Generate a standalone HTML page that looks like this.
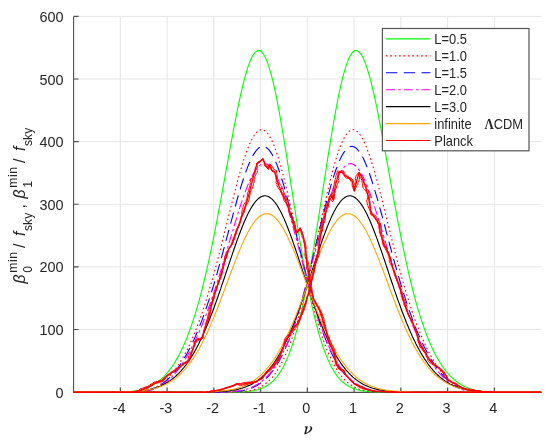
<!DOCTYPE html>
<html><head><meta charset="utf-8"><style>html,body{margin:0;padding:0;background:#fff;overflow:hidden}svg{display:block}</style></head><body>
<svg width="550" height="441" viewBox="0 0 550 441">
<rect width="550" height="441" fill="#fff"/>
<path d="M120.35,16.4 V392.4 M167.10,16.4 V392.4 M213.85,16.4 V392.4 M260.60,16.4 V392.4 M307.35,16.4 V392.4 M354.10,16.4 V392.4 M400.85,16.4 V392.4 M447.60,16.4 V392.4 M494.35,16.4 V392.4 M73.6,329.48 H541.15 M73.6,266.86 H541.15 M73.6,204.24 H541.15 M73.6,141.62 H541.15 M73.6,79.00 H541.15 M73.6,16.38 H541.15" stroke="#e6e6e6" stroke-width="1" fill="none"/>
<path d="M73.6,16.4 V392.4 H541.15" stroke="#505050" stroke-width="1.1" fill="none"/>
<path d="M120.35,392.4 v-5 M167.10,392.4 v-5 M213.85,392.4 v-5 M260.60,392.4 v-5 M307.35,392.4 v-5 M354.10,392.4 v-5 M400.85,392.4 v-5 M447.60,392.4 v-5 M494.35,392.4 v-5 M73.6,392.10 h5 M73.6,329.48 h5 M73.6,266.86 h5 M73.6,204.24 h5 M73.6,141.62 h5 M73.6,79.00 h5 M73.6,16.38 h5" stroke="#505050" stroke-width="1.2" fill="none"/>
<path d="M73.6,392.1 L74.8,392.1 L75.9,392.1 L77.1,392.1 L78.3,392.1 L79.4,392.1 L80.6,392.1 L81.8,392.1 L83.0,392.1 L84.1,392.1 L85.3,392.1 L86.5,392.1 L87.6,392.1 L88.8,392.1 L90.0,392.1 L91.1,392.1 L92.3,392.1 L93.5,392.1 L94.6,392.1 L95.8,392.1 L97.0,392.1 L98.1,392.1 L99.3,392.1 L100.5,392.1 L101.7,392.1 L102.8,392.1 L104.0,392.1 L105.2,392.1 L106.3,392.1 L107.5,392.1 L108.7,392.1 L109.8,392.1 L111.0,392.1 L112.2,392.1 L113.3,392.1 L114.5,392.1 L115.7,392.1 L116.8,392.1 L118.0,392.1 L119.2,392.1 L120.4,392.1 L121.5,392.1 L122.7,392.1 L123.9,392.1 L125.0,392.1 L126.2,392.1 L127.4,392.1 L128.5,392.1 L129.7,392.1 L130.9,392.1 L132.0,392.1 L133.2,392.1 L134.4,392.1 L135.5,392.1 L136.7,392.1 L137.9,392.1 L139.1,392.1 L140.2,392.1 L141.4,392.1 L142.6,392.1 L143.7,392.1 L144.9,392.1 L146.1,392.1 L147.2,392.1 L148.4,392.1 L149.6,392.1 L150.7,392.1 L151.9,392.1 L153.1,392.1 L154.2,392.1 L155.4,392.1 L156.6,392.1 L157.8,392.1 L158.9,392.1 L160.1,392.1 L161.3,392.1 L162.4,392.1 L163.6,392.1 L164.8,392.1 L165.9,392.1 L167.1,392.1 L168.3,392.1 L169.4,392.1 L170.6,392.1 L171.8,392.1 L172.9,392.1 L174.1,392.1 L175.3,392.1 L176.5,392.1 L177.6,392.1 L178.8,392.1 L180.0,392.1 L181.1,392.1 L182.3,392.1 L183.5,392.1 L184.6,392.1 L185.8,392.1 L187.0,392.1 L188.1,392.1 L189.3,392.1 L190.5,392.1 L191.6,392.1 L192.8,392.1 L194.0,392.1 L195.2,392.1 L196.3,392.1 L197.5,392.1 L198.7,392.1 L199.8,392.1 L201.0,392.1 L202.2,392.1 L203.3,392.1 L204.5,392.1 L205.7,392.1 L206.8,392.1 L208.0,392.1 L209.2,392.1 L210.3,392.1 L211.5,392.1 L212.7,392.1 L213.9,392.1 L215.0,392.1 L216.2,392.1 L217.4,392.1 L218.5,392.1 L219.7,392.1 L220.9,392.1 L222.0,392.1 L223.2,392.1 L224.4,392.1 L225.5,392.1 L226.7,392.1 L227.9,392.1 L229.0,392.1 L230.2,392.1 L231.4,392.0 L232.6,392.0 L233.7,392.0 L234.9,392.0 L236.1,392.0 L237.2,391.9 L238.4,391.9 L239.6,391.9 L240.7,391.8 L241.9,391.8 L243.1,391.7 L244.2,391.6 L245.4,391.6 L246.6,391.5 L247.7,391.4 L248.9,391.2 L250.1,391.1 L251.3,390.9 L252.4,390.8 L253.6,390.6 L254.8,390.3 L255.9,390.1 L257.1,389.8 L258.3,389.5 L259.4,389.1 L260.6,388.7 L261.8,388.3 L262.9,387.8 L264.1,387.3 L265.3,386.7 L266.4,386.0 L267.6,385.3 L268.8,384.5 L270.0,383.6 L271.1,382.7 L272.3,381.7 L273.5,380.6 L274.6,379.4 L275.8,378.0 L277.0,376.6 L278.1,375.1 L279.3,373.4 L280.5,371.6 L281.6,369.7 L282.8,367.7 L284.0,365.5 L285.1,363.1 L286.3,360.6 L287.5,357.9 L288.7,355.1 L289.8,352.0 L291.0,348.8 L292.2,345.5 L293.3,341.9 L294.5,338.1 L295.7,334.1 L296.8,330.0 L298.0,325.6 L299.2,321.0 L300.3,316.2 L301.5,311.3 L302.7,306.1 L303.8,300.7 L305.0,295.1 L306.2,289.3 L307.4,283.3 L308.5,277.1 L309.7,270.7 L310.9,264.2 L312.0,257.5 L313.2,250.6 L314.4,243.6 L315.5,236.5 L316.7,229.3 L317.9,221.9 L319.0,214.5 L320.2,207.0 L321.4,199.5 L322.5,191.9 L323.7,184.3 L324.9,176.7 L326.1,169.1 L327.2,161.6 L328.4,154.2 L329.6,146.8 L330.7,139.6 L331.9,132.5 L333.1,125.6 L334.2,118.9 L335.4,112.4 L336.6,106.1 L337.7,100.0 L338.9,94.2 L340.1,88.8 L341.2,83.6 L342.4,78.7 L343.6,74.2 L344.8,70.1 L345.9,66.3 L347.1,62.9 L348.3,59.9 L349.4,57.3 L350.6,55.2 L351.8,53.4 L352.9,52.0 L354.1,51.1 L355.3,50.6 L356.4,50.6 L357.6,50.9 L358.8,51.7 L359.9,52.8 L361.1,54.4 L362.3,56.3 L363.5,58.7 L364.6,61.4 L365.8,64.4 L367.0,67.8 L368.1,71.5 L369.3,75.6 L370.5,79.9 L371.6,84.5 L372.8,89.3 L374.0,94.4 L375.1,99.7 L376.3,105.2 L377.5,110.9 L378.6,116.8 L379.8,122.8 L381.0,128.9 L382.2,135.1 L383.3,141.4 L384.5,147.8 L385.7,154.3 L386.8,160.7 L388.0,167.2 L389.2,173.7 L390.3,180.2 L391.5,186.7 L392.7,193.2 L393.8,199.6 L395.0,205.9 L396.2,212.2 L397.3,218.4 L398.5,224.5 L399.7,230.5 L400.9,236.4 L402.0,242.2 L403.2,247.9 L404.4,253.5 L405.5,259.0 L406.7,264.3 L407.9,269.5 L409.0,274.6 L410.2,279.5 L411.4,284.3 L412.5,289.0 L413.7,293.5 L414.9,297.9 L416.0,302.2 L417.2,306.3 L418.4,310.3 L419.6,314.2 L420.7,317.9 L421.9,321.5 L423.1,325.0 L424.2,328.3 L425.4,331.5 L426.6,334.6 L427.7,337.6 L428.9,340.5 L430.1,343.2 L431.2,345.9 L432.4,348.4 L433.6,350.9 L434.7,353.2 L435.9,355.5 L437.1,357.6 L438.3,359.6 L439.4,361.6 L440.6,363.5 L441.8,365.3 L442.9,367.0 L444.1,368.6 L445.3,370.1 L446.4,371.6 L447.6,373.0 L448.8,374.4 L449.9,375.6 L451.1,376.8 L452.3,377.9 L453.4,379.0 L454.6,380.0 L455.8,381.0 L457.0,381.9 L458.1,382.7 L459.3,383.5 L460.5,384.3 L461.6,385.0 L462.8,385.6 L464.0,386.2 L465.1,386.8 L466.3,387.3 L467.5,387.8 L468.6,388.3 L469.8,388.7 L471.0,389.0 L472.1,389.4 L473.3,389.7 L474.5,390.0 L475.6,390.3 L476.8,390.5 L478.0,390.7 L479.2,390.9 L480.3,391.1 L481.5,391.2 L482.7,391.3 L483.8,391.5 L485.0,391.6 L486.2,391.6 L487.3,391.7 L488.5,391.8 L489.7,391.8 L490.8,391.9 L492.0,391.9 L493.2,392.0 L494.4,392.0 L495.5,392.0 L496.7,392.0 L497.9,392.0 L499.0,392.1 L500.2,392.1 L501.4,392.1 L502.5,392.1 L503.7,392.1 L504.9,392.1 L506.0,392.1 L507.2,392.1 L508.4,392.1 L509.5,392.1 L510.7,392.1 L511.9,392.1 L513.1,392.1 L514.2,392.1 L515.4,392.1 L516.6,392.1 L517.7,392.1 L518.9,392.1 L520.1,392.1 L521.2,392.1 L522.4,392.1 L523.6,392.1 L524.7,392.1 L525.9,392.1 L527.1,392.1 L528.2,392.1 L529.4,392.1 L530.6,392.1 L531.8,392.1 L532.9,392.1 L534.1,392.1 L535.3,392.1 L536.4,392.1 L537.6,392.1 L538.8,392.1 L539.9,392.1 L541.1,392.1" stroke="#00ff00" stroke-width="1.1" fill="none" />
<path d="M73.6,392.1 L74.8,392.1 L75.9,392.1 L77.1,392.1 L78.3,392.1 L79.4,392.1 L80.6,392.1 L81.8,392.1 L82.9,392.1 L84.1,392.1 L85.3,392.1 L86.5,392.1 L87.6,392.1 L88.8,392.1 L90.0,392.1 L91.1,392.1 L92.3,392.1 L93.5,392.1 L94.6,392.1 L95.8,392.1 L97.0,392.1 L98.1,392.1 L99.3,392.1 L100.5,392.1 L101.7,392.1 L102.8,392.1 L104.0,392.1 L105.2,392.1 L106.3,392.1 L107.5,392.1 L108.7,392.1 L109.8,392.1 L111.0,392.1 L112.2,392.1 L113.3,392.1 L114.5,392.1 L115.7,392.1 L116.8,392.0 L118.0,392.0 L119.2,392.0 L120.4,392.0 L121.5,392.0 L122.7,391.9 L123.9,391.9 L125.0,391.8 L126.2,391.8 L127.4,391.7 L128.5,391.6 L129.7,391.6 L130.9,391.5 L132.0,391.3 L133.2,391.2 L134.4,391.1 L135.5,390.9 L136.7,390.7 L137.9,390.5 L139.1,390.3 L140.2,390.0 L141.4,389.7 L142.6,389.4 L143.7,389.0 L144.9,388.7 L146.1,388.3 L147.2,387.8 L148.4,387.3 L149.6,386.8 L150.7,386.2 L151.9,385.6 L153.1,385.0 L154.2,384.3 L155.4,383.5 L156.6,382.7 L157.7,381.9 L158.9,381.0 L160.1,380.0 L161.3,379.0 L162.4,377.9 L163.6,376.8 L164.8,375.6 L165.9,374.4 L167.1,373.0 L168.3,371.6 L169.4,370.1 L170.6,368.6 L171.8,367.0 L172.9,365.3 L174.1,363.5 L175.3,361.6 L176.4,359.6 L177.6,357.6 L178.8,355.5 L180.0,353.2 L181.1,350.9 L182.3,348.4 L183.5,345.9 L184.6,343.2 L185.8,340.5 L187.0,337.6 L188.1,334.6 L189.3,331.5 L190.5,328.3 L191.6,325.0 L192.8,321.5 L194.0,317.9 L195.2,314.2 L196.3,310.3 L197.5,306.3 L198.7,302.2 L199.8,297.9 L201.0,293.5 L202.2,289.0 L203.3,284.3 L204.5,279.5 L205.7,274.6 L206.8,269.5 L208.0,264.3 L209.2,259.0 L210.3,253.5 L211.5,247.9 L212.7,242.2 L213.9,236.4 L215.0,230.5 L216.2,224.5 L217.4,218.4 L218.5,212.2 L219.7,205.9 L220.9,199.6 L222.0,193.2 L223.2,186.7 L224.4,180.2 L225.5,173.7 L226.7,167.2 L227.9,160.7 L229.0,154.3 L230.2,147.8 L231.4,141.4 L232.6,135.1 L233.7,128.9 L234.9,122.8 L236.1,116.8 L237.2,110.9 L238.4,105.2 L239.6,99.7 L240.7,94.4 L241.9,89.3 L243.1,84.5 L244.2,79.9 L245.4,75.6 L246.6,71.5 L247.7,67.8 L248.9,64.4 L250.1,61.4 L251.2,58.7 L252.4,56.3 L253.6,54.4 L254.8,52.8 L255.9,51.7 L257.1,50.9 L258.3,50.6 L259.4,50.6 L260.6,51.1 L261.8,52.0 L262.9,53.4 L264.1,55.2 L265.3,57.3 L266.4,59.9 L267.6,62.9 L268.8,66.3 L269.9,70.1 L271.1,74.2 L272.3,78.7 L273.5,83.6 L274.6,88.8 L275.8,94.2 L277.0,100.0 L278.1,106.1 L279.3,112.4 L280.5,118.9 L281.6,125.6 L282.8,132.5 L284.0,139.6 L285.1,146.8 L286.3,154.2 L287.5,161.6 L288.6,169.1 L289.8,176.7 L291.0,184.3 L292.2,191.9 L293.3,199.5 L294.5,207.0 L295.7,214.5 L296.8,221.9 L298.0,229.3 L299.2,236.5 L300.3,243.6 L301.5,250.6 L302.7,257.5 L303.8,264.2 L305.0,270.7 L306.2,277.1 L307.4,283.3 L308.5,289.3 L309.7,295.1 L310.9,300.7 L312.0,306.1 L313.2,311.3 L314.4,316.2 L315.5,321.0 L316.7,325.6 L317.9,330.0 L319.0,334.1 L320.2,338.1 L321.4,341.9 L322.5,345.5 L323.7,348.8 L324.9,352.0 L326.1,355.1 L327.2,357.9 L328.4,360.6 L329.6,363.1 L330.7,365.5 L331.9,367.7 L333.1,369.7 L334.2,371.6 L335.4,373.4 L336.6,375.1 L337.7,376.6 L338.9,378.0 L340.1,379.4 L341.2,380.6 L342.4,381.7 L343.6,382.7 L344.8,383.6 L345.9,384.5 L347.1,385.3 L348.3,386.0 L349.4,386.7 L350.6,387.3 L351.8,387.8 L352.9,388.3 L354.1,388.7 L355.3,389.1 L356.4,389.5 L357.6,389.8 L358.8,390.1 L359.9,390.3 L361.1,390.6 L362.3,390.8 L363.4,390.9 L364.6,391.1 L365.8,391.2 L367.0,391.4 L368.1,391.5 L369.3,391.6 L370.5,391.6 L371.6,391.7 L372.8,391.8 L374.0,391.8 L375.1,391.9 L376.3,391.9 L377.5,391.9 L378.6,392.0 L379.8,392.0 L381.0,392.0 L382.1,392.0 L383.3,392.0 L384.5,392.1 L385.7,392.1 L386.8,392.1 L388.0,392.1 L389.2,392.1 L390.3,392.1 L391.5,392.1 L392.7,392.1 L393.8,392.1 L395.0,392.1 L396.2,392.1 L397.3,392.1 L398.5,392.1 L399.7,392.1 L400.9,392.1 L402.0,392.1 L403.2,392.1 L404.4,392.1 L405.5,392.1 L406.7,392.1 L407.9,392.1 L409.0,392.1 L410.2,392.1 L411.4,392.1 L412.5,392.1 L413.7,392.1 L414.9,392.1 L416.0,392.1 L417.2,392.1 L418.4,392.1 L419.6,392.1 L420.7,392.1 L421.9,392.1 L423.1,392.1 L424.2,392.1 L425.4,392.1 L426.6,392.1 L427.7,392.1 L428.9,392.1 L430.1,392.1 L431.2,392.1 L432.4,392.1 L433.6,392.1 L434.7,392.1 L435.9,392.1 L437.1,392.1 L438.2,392.1 L439.4,392.1 L440.6,392.1 L441.8,392.1 L442.9,392.1 L444.1,392.1 L445.3,392.1 L446.4,392.1 L447.6,392.1 L448.8,392.1 L449.9,392.1 L451.1,392.1 L452.3,392.1 L453.4,392.1 L454.6,392.1 L455.8,392.1 L457.0,392.1 L458.1,392.1 L459.3,392.1 L460.5,392.1 L461.6,392.1 L462.8,392.1 L464.0,392.1 L465.1,392.1 L466.3,392.1 L467.5,392.1 L468.6,392.1 L469.8,392.1 L471.0,392.1 L472.1,392.1 L473.3,392.1 L474.5,392.1 L475.6,392.1 L476.8,392.1 L478.0,392.1 L479.2,392.1 L480.3,392.1 L481.5,392.1 L482.7,392.1 L483.8,392.1 L485.0,392.1 L486.2,392.1 L487.3,392.1 L488.5,392.1 L489.7,392.1 L490.8,392.1 L492.0,392.1 L493.2,392.1 L494.4,392.1 L495.5,392.1 L496.7,392.1 L497.9,392.1 L499.0,392.1 L500.2,392.1 L501.4,392.1 L502.5,392.1 L503.7,392.1 L504.9,392.1 L506.0,392.1 L507.2,392.1 L508.4,392.1 L509.5,392.1 L510.7,392.1 L511.9,392.1 L513.1,392.1 L514.2,392.1 L515.4,392.1 L516.6,392.1 L517.7,392.1 L518.9,392.1 L520.1,392.1 L521.2,392.1 L522.4,392.1 L523.6,392.1 L524.7,392.1 L525.9,392.1 L527.1,392.1 L528.2,392.1 L529.4,392.1 L530.6,392.1 L531.8,392.1 L532.9,392.1 L534.1,392.1 L535.3,392.1 L536.4,392.1 L537.6,392.1 L538.8,392.1 L539.9,392.1 L541.1,392.1" stroke="#00ff00" stroke-width="1.1" fill="none" />
<path d="M73.6,392.1 L74.8,392.1 L75.9,392.1 L77.1,392.1 L78.3,392.1 L79.4,392.1 L80.6,392.1 L81.8,392.1 L83.0,392.1 L84.1,392.1 L85.3,392.1 L86.5,392.1 L87.6,392.1 L88.8,392.1 L90.0,392.1 L91.1,392.1 L92.3,392.1 L93.5,392.1 L94.6,392.1 L95.8,392.1 L97.0,392.1 L98.1,392.1 L99.3,392.1 L100.5,392.1 L101.7,392.1 L102.8,392.1 L104.0,392.1 L105.2,392.1 L106.3,392.1 L107.5,392.1 L108.7,392.1 L109.8,392.1 L111.0,392.1 L112.2,392.1 L113.3,392.1 L114.5,392.1 L115.7,392.1 L116.8,392.1 L118.0,392.1 L119.2,392.1 L120.4,392.1 L121.5,392.1 L122.7,392.1 L123.9,392.1 L125.0,392.1 L126.2,392.1 L127.4,392.1 L128.5,392.1 L129.7,392.1 L130.9,392.1 L132.0,392.1 L133.2,392.1 L134.4,392.1 L135.5,392.1 L136.7,392.1 L137.9,392.1 L139.1,392.1 L140.2,392.1 L141.4,392.1 L142.6,392.1 L143.7,392.1 L144.9,392.1 L146.1,392.1 L147.2,392.1 L148.4,392.1 L149.6,392.1 L150.7,392.1 L151.9,392.1 L153.1,392.1 L154.2,392.1 L155.4,392.1 L156.6,392.1 L157.8,392.1 L158.9,392.1 L160.1,392.1 L161.3,392.1 L162.4,392.1 L163.6,392.1 L164.8,392.1 L165.9,392.1 L167.1,392.1 L168.3,392.1 L169.4,392.1 L170.6,392.1 L171.8,392.1 L172.9,392.1 L174.1,392.1 L175.3,392.1 L176.5,392.1 L177.6,392.1 L178.8,392.1 L180.0,392.1 L181.1,392.1 L182.3,392.1 L183.5,392.1 L184.6,392.1 L185.8,392.1 L187.0,392.1 L188.1,392.1 L189.3,392.1 L190.5,392.1 L191.6,392.1 L192.8,392.1 L194.0,392.1 L195.2,392.1 L196.3,392.1 L197.5,392.1 L198.7,392.1 L199.8,392.1 L201.0,392.1 L202.2,392.1 L203.3,392.1 L204.5,392.1 L205.7,392.1 L206.8,392.1 L208.0,392.1 L209.2,392.1 L210.3,392.1 L211.5,392.1 L212.7,392.1 L213.9,392.1 L215.0,392.1 L216.2,392.1 L217.4,392.1 L218.5,392.1 L219.7,392.1 L220.9,392.1 L222.0,392.1 L223.2,392.1 L224.4,392.1 L225.5,392.1 L226.7,392.1 L227.9,392.1 L229.0,392.1 L230.2,392.0 L231.4,392.0 L232.6,392.0 L233.7,392.0 L234.9,392.0 L236.1,391.9 L237.2,391.9 L238.4,391.8 L239.6,391.8 L240.7,391.7 L241.9,391.6 L243.1,391.5 L244.2,391.4 L245.4,391.3 L246.6,391.1 L247.7,391.0 L248.9,390.8 L250.1,390.6 L251.3,390.3 L252.4,390.0 L253.6,389.7 L254.8,389.3 L255.9,389.0 L257.1,388.5 L258.3,388.0 L259.4,387.5 L260.6,386.9 L261.8,386.3 L262.9,385.5 L264.1,384.8 L265.3,383.9 L266.4,383.0 L267.6,382.0 L268.8,381.0 L270.0,379.8 L271.1,378.6 L272.3,377.3 L273.5,375.8 L274.6,374.3 L275.8,372.7 L277.0,371.0 L278.1,369.2 L279.3,367.2 L280.5,365.2 L281.6,363.0 L282.8,360.7 L284.0,358.3 L285.1,355.7 L286.3,353.1 L287.5,350.3 L288.7,347.3 L289.8,344.3 L291.0,341.1 L292.2,337.7 L293.3,334.3 L294.5,330.7 L295.7,326.9 L296.8,323.1 L298.0,319.1 L299.2,314.9 L300.3,310.7 L301.5,306.3 L302.7,301.8 L303.8,297.2 L305.0,292.5 L306.2,287.6 L307.4,282.7 L308.5,277.7 L309.7,272.6 L310.9,267.4 L312.0,262.2 L313.2,256.9 L314.4,251.5 L315.5,246.1 L316.7,240.7 L317.9,235.3 L319.0,229.9 L320.2,224.5 L321.4,219.1 L322.5,213.7 L323.7,208.4 L324.9,203.2 L326.1,198.0 L327.2,192.9 L328.4,187.9 L329.6,183.1 L330.7,178.4 L331.9,173.8 L333.1,169.4 L334.2,165.2 L335.4,161.1 L336.6,157.3 L337.7,153.7 L338.9,150.3 L340.1,147.1 L341.2,144.2 L342.4,141.5 L343.6,139.1 L344.8,136.9 L345.9,135.0 L347.1,133.4 L348.3,132.1 L349.4,131.1 L350.6,130.3 L351.8,129.9 L352.9,129.7 L354.1,129.8 L355.3,130.2 L356.4,130.9 L357.6,131.8 L358.8,133.0 L359.9,134.5 L361.1,136.3 L362.3,138.3 L363.5,140.5 L364.6,143.0 L365.8,145.7 L367.0,148.6 L368.1,151.7 L369.3,155.0 L370.5,158.5 L371.6,162.1 L372.8,165.9 L374.0,169.8 L375.1,173.9 L376.3,178.1 L377.5,182.4 L378.6,186.8 L379.8,191.2 L381.0,195.8 L382.2,200.4 L383.3,205.0 L384.5,209.7 L385.7,214.4 L386.8,219.1 L388.0,223.8 L389.2,228.6 L390.3,233.3 L391.5,238.0 L392.7,242.6 L393.8,247.3 L395.0,251.9 L396.2,256.4 L397.3,260.9 L398.5,265.3 L399.7,269.7 L400.9,274.0 L402.0,278.2 L403.2,282.4 L404.4,286.5 L405.5,290.5 L406.7,294.4 L407.9,298.2 L409.0,301.9 L410.2,305.6 L411.4,309.2 L412.5,312.7 L413.7,316.1 L414.9,319.4 L416.0,322.6 L417.2,325.7 L418.4,328.7 L419.6,331.7 L420.7,334.6 L421.9,337.3 L423.1,340.0 L424.2,342.6 L425.4,345.2 L426.6,347.6 L427.7,350.0 L428.9,352.3 L430.1,354.5 L431.2,356.6 L432.4,358.6 L433.6,360.6 L434.7,362.5 L435.9,364.3 L437.1,366.1 L438.3,367.8 L439.4,369.4 L440.6,370.9 L441.8,372.4 L442.9,373.8 L444.1,375.1 L445.3,376.4 L446.4,377.6 L447.6,378.8 L448.8,379.9 L449.9,380.9 L451.1,381.9 L452.3,382.8 L453.4,383.7 L454.6,384.5 L455.8,385.2 L457.0,385.9 L458.1,386.6 L459.3,387.2 L460.5,387.7 L461.6,388.2 L462.8,388.7 L464.0,389.1 L465.1,389.5 L466.3,389.8 L467.5,390.1 L468.6,390.4 L469.8,390.7 L471.0,390.9 L472.1,391.1 L473.3,391.2 L474.5,391.4 L475.6,391.5 L476.8,391.6 L478.0,391.7 L479.2,391.8 L480.3,391.8 L481.5,391.9 L482.7,391.9 L483.8,392.0 L485.0,392.0 L486.2,392.0 L487.3,392.0 L488.5,392.1 L489.7,392.1 L490.8,392.1 L492.0,392.1 L493.2,392.1 L494.4,392.1 L495.5,392.1 L496.7,392.1 L497.9,392.1 L499.0,392.1 L500.2,392.1 L501.4,392.1 L502.5,392.1 L503.7,392.1 L504.9,392.1 L506.0,392.1 L507.2,392.1 L508.4,392.1 L509.5,392.1 L510.7,392.1 L511.9,392.1 L513.1,392.1 L514.2,392.1 L515.4,392.1 L516.6,392.1 L517.7,392.1 L518.9,392.1 L520.1,392.1 L521.2,392.1 L522.4,392.1 L523.6,392.1 L524.7,392.1 L525.9,392.1 L527.1,392.1 L528.2,392.1 L529.4,392.1 L530.6,392.1 L531.8,392.1 L532.9,392.1 L534.1,392.1 L535.3,392.1 L536.4,392.1 L537.6,392.1 L538.8,392.1 L539.9,392.1 L541.1,392.1" stroke="#ff0000" stroke-width="1.1" fill="none" stroke-dasharray="1.6 2.8"/>
<path d="M73.6,392.1 L74.8,392.1 L75.9,392.1 L77.1,392.1 L78.3,392.1 L79.4,392.1 L80.6,392.1 L81.8,392.1 L82.9,392.1 L84.1,392.1 L85.3,392.1 L86.5,392.1 L87.6,392.1 L88.8,392.1 L90.0,392.1 L91.1,392.1 L92.3,392.1 L93.5,392.1 L94.6,392.1 L95.8,392.1 L97.0,392.1 L98.1,392.1 L99.3,392.1 L100.5,392.1 L101.7,392.1 L102.8,392.1 L104.0,392.1 L105.2,392.1 L106.3,392.1 L107.5,392.1 L108.7,392.1 L109.8,392.1 L111.0,392.1 L112.2,392.1 L113.3,392.1 L114.5,392.1 L115.7,392.1 L116.8,392.1 L118.0,392.1 L119.2,392.1 L120.4,392.1 L121.5,392.1 L122.7,392.1 L123.9,392.1 L125.0,392.1 L126.2,392.1 L127.4,392.0 L128.5,392.0 L129.7,392.0 L130.9,392.0 L132.0,391.9 L133.2,391.9 L134.4,391.8 L135.5,391.8 L136.7,391.7 L137.9,391.6 L139.1,391.5 L140.2,391.4 L141.4,391.2 L142.6,391.1 L143.7,390.9 L144.9,390.7 L146.1,390.4 L147.2,390.1 L148.4,389.8 L149.6,389.5 L150.7,389.1 L151.9,388.7 L153.1,388.2 L154.2,387.7 L155.4,387.2 L156.6,386.6 L157.7,385.9 L158.9,385.2 L160.1,384.5 L161.3,383.7 L162.4,382.8 L163.6,381.9 L164.8,380.9 L165.9,379.9 L167.1,378.8 L168.3,377.6 L169.4,376.4 L170.6,375.1 L171.8,373.8 L172.9,372.4 L174.1,370.9 L175.3,369.4 L176.4,367.8 L177.6,366.1 L178.8,364.3 L180.0,362.5 L181.1,360.6 L182.3,358.6 L183.5,356.6 L184.6,354.5 L185.8,352.3 L187.0,350.0 L188.1,347.6 L189.3,345.2 L190.5,342.6 L191.6,340.0 L192.8,337.3 L194.0,334.6 L195.2,331.7 L196.3,328.7 L197.5,325.7 L198.7,322.6 L199.8,319.4 L201.0,316.1 L202.2,312.7 L203.3,309.2 L204.5,305.6 L205.7,301.9 L206.8,298.2 L208.0,294.4 L209.2,290.5 L210.3,286.5 L211.5,282.4 L212.7,278.2 L213.9,274.0 L215.0,269.7 L216.2,265.3 L217.4,260.9 L218.5,256.4 L219.7,251.9 L220.9,247.3 L222.0,242.6 L223.2,238.0 L224.4,233.3 L225.5,228.6 L226.7,223.8 L227.9,219.1 L229.0,214.4 L230.2,209.7 L231.4,205.0 L232.6,200.4 L233.7,195.8 L234.9,191.2 L236.1,186.8 L237.2,182.4 L238.4,178.1 L239.6,173.9 L240.7,169.8 L241.9,165.9 L243.1,162.1 L244.2,158.5 L245.4,155.0 L246.6,151.7 L247.7,148.6 L248.9,145.7 L250.1,143.0 L251.2,140.5 L252.4,138.3 L253.6,136.3 L254.8,134.5 L255.9,133.0 L257.1,131.8 L258.3,130.9 L259.4,130.2 L260.6,129.8 L261.8,129.7 L262.9,129.9 L264.1,130.3 L265.3,131.1 L266.4,132.1 L267.6,133.4 L268.8,135.0 L269.9,136.9 L271.1,139.1 L272.3,141.5 L273.5,144.2 L274.6,147.1 L275.8,150.3 L277.0,153.7 L278.1,157.3 L279.3,161.1 L280.5,165.2 L281.6,169.4 L282.8,173.8 L284.0,178.4 L285.1,183.1 L286.3,187.9 L287.5,192.9 L288.6,198.0 L289.8,203.2 L291.0,208.4 L292.2,213.7 L293.3,219.1 L294.5,224.5 L295.7,229.9 L296.8,235.3 L298.0,240.7 L299.2,246.1 L300.3,251.5 L301.5,256.9 L302.7,262.2 L303.8,267.4 L305.0,272.6 L306.2,277.7 L307.4,282.7 L308.5,287.6 L309.7,292.5 L310.9,297.2 L312.0,301.8 L313.2,306.3 L314.4,310.7 L315.5,314.9 L316.7,319.1 L317.9,323.1 L319.0,326.9 L320.2,330.7 L321.4,334.3 L322.5,337.7 L323.7,341.1 L324.9,344.3 L326.1,347.3 L327.2,350.3 L328.4,353.1 L329.6,355.7 L330.7,358.3 L331.9,360.7 L333.1,363.0 L334.2,365.2 L335.4,367.2 L336.6,369.2 L337.7,371.0 L338.9,372.7 L340.1,374.3 L341.2,375.8 L342.4,377.3 L343.6,378.6 L344.8,379.8 L345.9,381.0 L347.1,382.0 L348.3,383.0 L349.4,383.9 L350.6,384.8 L351.8,385.5 L352.9,386.3 L354.1,386.9 L355.3,387.5 L356.4,388.0 L357.6,388.5 L358.8,389.0 L359.9,389.3 L361.1,389.7 L362.3,390.0 L363.4,390.3 L364.6,390.6 L365.8,390.8 L367.0,391.0 L368.1,391.1 L369.3,391.3 L370.5,391.4 L371.6,391.5 L372.8,391.6 L374.0,391.7 L375.1,391.8 L376.3,391.8 L377.5,391.9 L378.6,391.9 L379.8,392.0 L381.0,392.0 L382.1,392.0 L383.3,392.0 L384.5,392.0 L385.7,392.1 L386.8,392.1 L388.0,392.1 L389.2,392.1 L390.3,392.1 L391.5,392.1 L392.7,392.1 L393.8,392.1 L395.0,392.1 L396.2,392.1 L397.3,392.1 L398.5,392.1 L399.7,392.1 L400.9,392.1 L402.0,392.1 L403.2,392.1 L404.4,392.1 L405.5,392.1 L406.7,392.1 L407.9,392.1 L409.0,392.1 L410.2,392.1 L411.4,392.1 L412.5,392.1 L413.7,392.1 L414.9,392.1 L416.0,392.1 L417.2,392.1 L418.4,392.1 L419.6,392.1 L420.7,392.1 L421.9,392.1 L423.1,392.1 L424.2,392.1 L425.4,392.1 L426.6,392.1 L427.7,392.1 L428.9,392.1 L430.1,392.1 L431.2,392.1 L432.4,392.1 L433.6,392.1 L434.7,392.1 L435.9,392.1 L437.1,392.1 L438.2,392.1 L439.4,392.1 L440.6,392.1 L441.8,392.1 L442.9,392.1 L444.1,392.1 L445.3,392.1 L446.4,392.1 L447.6,392.1 L448.8,392.1 L449.9,392.1 L451.1,392.1 L452.3,392.1 L453.4,392.1 L454.6,392.1 L455.8,392.1 L457.0,392.1 L458.1,392.1 L459.3,392.1 L460.5,392.1 L461.6,392.1 L462.8,392.1 L464.0,392.1 L465.1,392.1 L466.3,392.1 L467.5,392.1 L468.6,392.1 L469.8,392.1 L471.0,392.1 L472.1,392.1 L473.3,392.1 L474.5,392.1 L475.6,392.1 L476.8,392.1 L478.0,392.1 L479.2,392.1 L480.3,392.1 L481.5,392.1 L482.7,392.1 L483.8,392.1 L485.0,392.1 L486.2,392.1 L487.3,392.1 L488.5,392.1 L489.7,392.1 L490.8,392.1 L492.0,392.1 L493.2,392.1 L494.4,392.1 L495.5,392.1 L496.7,392.1 L497.9,392.1 L499.0,392.1 L500.2,392.1 L501.4,392.1 L502.5,392.1 L503.7,392.1 L504.9,392.1 L506.0,392.1 L507.2,392.1 L508.4,392.1 L509.5,392.1 L510.7,392.1 L511.9,392.1 L513.1,392.1 L514.2,392.1 L515.4,392.1 L516.6,392.1 L517.7,392.1 L518.9,392.1 L520.1,392.1 L521.2,392.1 L522.4,392.1 L523.6,392.1 L524.7,392.1 L525.9,392.1 L527.1,392.1 L528.2,392.1 L529.4,392.1 L530.6,392.1 L531.8,392.1 L532.9,392.1 L534.1,392.1 L535.3,392.1 L536.4,392.1 L537.6,392.1 L538.8,392.1 L539.9,392.1 L541.1,392.1" stroke="#ff0000" stroke-width="1.1" fill="none" stroke-dasharray="1.6 2.8"/>
<path d="M73.6,392.1 L74.8,392.1 L75.9,392.1 L77.1,392.1 L78.3,392.1 L79.4,392.1 L80.6,392.1 L81.8,392.1 L83.0,392.1 L84.1,392.1 L85.3,392.1 L86.5,392.1 L87.6,392.1 L88.8,392.1 L90.0,392.1 L91.1,392.1 L92.3,392.1 L93.5,392.1 L94.6,392.1 L95.8,392.1 L97.0,392.1 L98.1,392.1 L99.3,392.1 L100.5,392.1 L101.7,392.1 L102.8,392.1 L104.0,392.1 L105.2,392.1 L106.3,392.1 L107.5,392.1 L108.7,392.1 L109.8,392.1 L111.0,392.1 L112.2,392.1 L113.3,392.1 L114.5,392.1 L115.7,392.1 L116.8,392.1 L118.0,392.1 L119.2,392.1 L120.4,392.1 L121.5,392.1 L122.7,392.1 L123.9,392.1 L125.0,392.1 L126.2,392.1 L127.4,392.1 L128.5,392.1 L129.7,392.1 L130.9,392.1 L132.0,392.1 L133.2,392.1 L134.4,392.1 L135.5,392.1 L136.7,392.1 L137.9,392.1 L139.1,392.1 L140.2,392.1 L141.4,392.1 L142.6,392.1 L143.7,392.1 L144.9,392.1 L146.1,392.1 L147.2,392.1 L148.4,392.1 L149.6,392.1 L150.7,392.1 L151.9,392.1 L153.1,392.1 L154.2,392.1 L155.4,392.1 L156.6,392.1 L157.8,392.1 L158.9,392.1 L160.1,392.1 L161.3,392.1 L162.4,392.1 L163.6,392.1 L164.8,392.1 L165.9,392.1 L167.1,392.1 L168.3,392.1 L169.4,392.1 L170.6,392.1 L171.8,392.1 L172.9,392.1 L174.1,392.1 L175.3,392.1 L176.5,392.1 L177.6,392.1 L178.8,392.1 L180.0,392.1 L181.1,392.1 L182.3,392.1 L183.5,392.1 L184.6,392.1 L185.8,392.1 L187.0,392.1 L188.1,392.1 L189.3,392.1 L190.5,392.1 L191.6,392.1 L192.8,392.1 L194.0,392.1 L195.2,392.1 L196.3,392.1 L197.5,392.1 L198.7,392.1 L199.8,392.1 L201.0,392.1 L202.2,392.1 L203.3,392.1 L204.5,392.1 L205.7,392.1 L206.8,392.1 L208.0,392.1 L209.2,392.1 L210.3,392.1 L211.5,392.1 L212.7,392.1 L213.9,392.1 L215.0,392.1 L216.2,392.1 L217.4,392.1 L218.5,392.1 L219.7,392.1 L220.9,392.1 L222.0,392.0 L223.2,392.0 L224.4,392.0 L225.5,392.0 L226.7,392.0 L227.9,391.9 L229.0,391.9 L230.2,391.8 L231.4,391.8 L232.6,391.7 L233.7,391.6 L234.9,391.5 L236.1,391.4 L237.2,391.3 L238.4,391.2 L239.6,391.0 L240.7,390.9 L241.9,390.7 L243.1,390.5 L244.2,390.2 L245.4,389.9 L246.6,389.7 L247.7,389.3 L248.9,389.0 L250.1,388.6 L251.3,388.2 L252.4,387.7 L253.6,387.2 L254.8,386.6 L255.9,386.0 L257.1,385.4 L258.3,384.7 L259.4,383.9 L260.6,383.1 L261.8,382.3 L262.9,381.4 L264.1,380.4 L265.3,379.3 L266.4,378.2 L267.6,377.0 L268.8,375.8 L270.0,374.4 L271.1,373.0 L272.3,371.5 L273.5,369.9 L274.6,368.3 L275.8,366.5 L277.0,364.7 L278.1,362.7 L279.3,360.7 L280.5,358.5 L281.6,356.3 L282.8,353.9 L284.0,351.5 L285.1,348.9 L286.3,346.3 L287.5,343.5 L288.7,340.6 L289.8,337.6 L291.0,334.5 L292.2,331.3 L293.3,328.0 L294.5,324.5 L295.7,321.0 L296.8,317.3 L298.0,313.5 L299.2,309.6 L300.3,305.6 L301.5,301.6 L302.7,297.4 L303.8,293.1 L305.0,288.7 L306.2,284.3 L307.4,279.8 L308.5,275.2 L309.7,270.5 L310.9,265.8 L312.0,261.0 L313.2,256.2 L314.4,251.3 L315.5,246.5 L316.7,241.6 L317.9,236.7 L319.0,231.8 L320.2,227.0 L321.4,222.1 L322.5,217.4 L323.7,212.6 L324.9,208.0 L326.1,203.4 L327.2,198.9 L328.4,194.6 L329.6,190.3 L330.7,186.2 L331.9,182.2 L333.1,178.4 L334.2,174.8 L335.4,171.3 L336.6,168.0 L337.7,164.9 L338.9,162.1 L340.1,159.4 L341.2,157.0 L342.4,154.8 L343.6,152.9 L344.8,151.2 L345.9,149.7 L347.1,148.5 L348.3,147.6 L349.4,146.9 L350.6,146.5 L351.8,146.4 L352.9,146.5 L354.1,146.9 L355.3,147.5 L356.4,148.4 L357.6,149.6 L358.8,151.0 L359.9,152.6 L361.1,154.4 L362.3,156.5 L363.5,158.8 L364.6,161.3 L365.8,164.0 L367.0,166.9 L368.1,169.9 L369.3,173.2 L370.5,176.5 L371.6,180.0 L372.8,183.7 L374.0,187.5 L375.1,191.4 L376.3,195.3 L377.5,199.4 L378.6,203.5 L379.8,207.8 L381.0,212.0 L382.2,216.3 L383.3,220.7 L384.5,225.0 L385.7,229.4 L386.8,233.8 L388.0,238.2 L389.2,242.6 L390.3,246.9 L391.5,251.2 L392.7,255.5 L393.8,259.8 L395.0,264.0 L396.2,268.2 L397.3,272.3 L398.5,276.4 L399.7,280.4 L400.9,284.3 L402.0,288.2 L403.2,292.0 L404.4,295.7 L405.5,299.3 L406.7,302.9 L407.9,306.4 L409.0,309.8 L410.2,313.1 L411.4,316.4 L412.5,319.6 L413.7,322.6 L414.9,325.6 L416.0,328.6 L417.2,331.4 L418.4,334.2 L419.6,336.9 L420.7,339.5 L421.9,342.0 L423.1,344.5 L424.2,346.8 L425.4,349.1 L426.6,351.4 L427.7,353.5 L428.9,355.6 L430.1,357.6 L431.2,359.6 L432.4,361.4 L433.6,363.2 L434.7,365.0 L435.9,366.7 L437.1,368.3 L438.3,369.8 L439.4,371.3 L440.6,372.7 L441.8,374.1 L442.9,375.4 L444.1,376.6 L445.3,377.8 L446.4,378.9 L447.6,380.0 L448.8,381.0 L449.9,381.9 L451.1,382.8 L452.3,383.7 L453.4,384.4 L454.6,385.2 L455.8,385.9 L457.0,386.5 L458.1,387.1 L459.3,387.7 L460.5,388.2 L461.6,388.6 L462.8,389.1 L464.0,389.4 L465.1,389.8 L466.3,390.1 L467.5,390.4 L468.6,390.6 L469.8,390.8 L471.0,391.0 L472.1,391.2 L473.3,391.4 L474.5,391.5 L475.6,391.6 L476.8,391.7 L478.0,391.8 L479.2,391.8 L480.3,391.9 L481.5,391.9 L482.7,392.0 L483.8,392.0 L485.0,392.0 L486.2,392.0 L487.3,392.1 L488.5,392.1 L489.7,392.1 L490.8,392.1 L492.0,392.1 L493.2,392.1 L494.4,392.1 L495.5,392.1 L496.7,392.1 L497.9,392.1 L499.0,392.1 L500.2,392.1 L501.4,392.1 L502.5,392.1 L503.7,392.1 L504.9,392.1 L506.0,392.1 L507.2,392.1 L508.4,392.1 L509.5,392.1 L510.7,392.1 L511.9,392.1 L513.1,392.1 L514.2,392.1 L515.4,392.1 L516.6,392.1 L517.7,392.1 L518.9,392.1 L520.1,392.1 L521.2,392.1 L522.4,392.1 L523.6,392.1 L524.7,392.1 L525.9,392.1 L527.1,392.1 L528.2,392.1 L529.4,392.1 L530.6,392.1 L531.8,392.1 L532.9,392.1 L534.1,392.1 L535.3,392.1 L536.4,392.1 L537.6,392.1 L538.8,392.1 L539.9,392.1 L541.1,392.1" stroke="#0000ff" stroke-width="1.1" fill="none" stroke-dasharray="11.4 6.4"/>
<path d="M73.6,392.1 L74.8,392.1 L75.9,392.1 L77.1,392.1 L78.3,392.1 L79.4,392.1 L80.6,392.1 L81.8,392.1 L82.9,392.1 L84.1,392.1 L85.3,392.1 L86.5,392.1 L87.6,392.1 L88.8,392.1 L90.0,392.1 L91.1,392.1 L92.3,392.1 L93.5,392.1 L94.6,392.1 L95.8,392.1 L97.0,392.1 L98.1,392.1 L99.3,392.1 L100.5,392.1 L101.7,392.1 L102.8,392.1 L104.0,392.1 L105.2,392.1 L106.3,392.1 L107.5,392.1 L108.7,392.1 L109.8,392.1 L111.0,392.1 L112.2,392.1 L113.3,392.1 L114.5,392.1 L115.7,392.1 L116.8,392.1 L118.0,392.1 L119.2,392.1 L120.4,392.1 L121.5,392.1 L122.7,392.1 L123.9,392.1 L125.0,392.1 L126.2,392.1 L127.4,392.1 L128.5,392.0 L129.7,392.0 L130.9,392.0 L132.0,392.0 L133.2,391.9 L134.4,391.9 L135.5,391.8 L136.7,391.8 L137.9,391.7 L139.1,391.6 L140.2,391.5 L141.4,391.4 L142.6,391.2 L143.7,391.0 L144.9,390.8 L146.1,390.6 L147.2,390.4 L148.4,390.1 L149.6,389.8 L150.7,389.4 L151.9,389.1 L153.1,388.6 L154.2,388.2 L155.4,387.7 L156.6,387.1 L157.7,386.5 L158.9,385.9 L160.1,385.2 L161.3,384.4 L162.4,383.7 L163.6,382.8 L164.8,381.9 L165.9,381.0 L167.1,380.0 L168.3,378.9 L169.4,377.8 L170.6,376.6 L171.8,375.4 L172.9,374.1 L174.1,372.7 L175.3,371.3 L176.4,369.8 L177.6,368.3 L178.8,366.7 L180.0,365.0 L181.1,363.2 L182.3,361.4 L183.5,359.6 L184.6,357.6 L185.8,355.6 L187.0,353.5 L188.1,351.4 L189.3,349.1 L190.5,346.8 L191.6,344.5 L192.8,342.0 L194.0,339.5 L195.2,336.9 L196.3,334.2 L197.5,331.4 L198.7,328.6 L199.8,325.6 L201.0,322.6 L202.2,319.6 L203.3,316.4 L204.5,313.1 L205.7,309.8 L206.8,306.4 L208.0,302.9 L209.2,299.3 L210.3,295.7 L211.5,292.0 L212.7,288.2 L213.9,284.3 L215.0,280.4 L216.2,276.4 L217.4,272.3 L218.5,268.2 L219.7,264.0 L220.9,259.8 L222.0,255.5 L223.2,251.2 L224.4,246.9 L225.5,242.6 L226.7,238.2 L227.9,233.8 L229.0,229.4 L230.2,225.0 L231.4,220.7 L232.6,216.3 L233.7,212.0 L234.9,207.8 L236.1,203.5 L237.2,199.4 L238.4,195.3 L239.6,191.4 L240.7,187.5 L241.9,183.7 L243.1,180.0 L244.2,176.5 L245.4,173.2 L246.6,169.9 L247.7,166.9 L248.9,164.0 L250.1,161.3 L251.2,158.8 L252.4,156.5 L253.6,154.4 L254.8,152.6 L255.9,151.0 L257.1,149.6 L258.3,148.4 L259.4,147.5 L260.6,146.9 L261.8,146.5 L262.9,146.4 L264.1,146.5 L265.3,146.9 L266.4,147.6 L267.6,148.5 L268.8,149.7 L269.9,151.2 L271.1,152.9 L272.3,154.8 L273.5,157.0 L274.6,159.4 L275.8,162.1 L277.0,164.9 L278.1,168.0 L279.3,171.3 L280.5,174.8 L281.6,178.4 L282.8,182.2 L284.0,186.2 L285.1,190.3 L286.3,194.6 L287.5,198.9 L288.6,203.4 L289.8,208.0 L291.0,212.6 L292.2,217.4 L293.3,222.1 L294.5,227.0 L295.7,231.8 L296.8,236.7 L298.0,241.6 L299.2,246.5 L300.3,251.3 L301.5,256.2 L302.7,261.0 L303.8,265.8 L305.0,270.5 L306.2,275.2 L307.4,279.8 L308.5,284.3 L309.7,288.7 L310.9,293.1 L312.0,297.4 L313.2,301.6 L314.4,305.6 L315.5,309.6 L316.7,313.5 L317.9,317.3 L319.0,321.0 L320.2,324.5 L321.4,328.0 L322.5,331.3 L323.7,334.5 L324.9,337.6 L326.1,340.6 L327.2,343.5 L328.4,346.3 L329.6,348.9 L330.7,351.5 L331.9,353.9 L333.1,356.3 L334.2,358.5 L335.4,360.7 L336.6,362.7 L337.7,364.7 L338.9,366.5 L340.1,368.3 L341.2,369.9 L342.4,371.5 L343.6,373.0 L344.8,374.4 L345.9,375.8 L347.1,377.0 L348.3,378.2 L349.4,379.3 L350.6,380.4 L351.8,381.4 L352.9,382.3 L354.1,383.1 L355.3,383.9 L356.4,384.7 L357.6,385.4 L358.8,386.0 L359.9,386.6 L361.1,387.2 L362.3,387.7 L363.4,388.2 L364.6,388.6 L365.8,389.0 L367.0,389.3 L368.1,389.7 L369.3,389.9 L370.5,390.2 L371.6,390.5 L372.8,390.7 L374.0,390.9 L375.1,391.0 L376.3,391.2 L377.5,391.3 L378.6,391.4 L379.8,391.5 L381.0,391.6 L382.1,391.7 L383.3,391.8 L384.5,391.8 L385.7,391.9 L386.8,391.9 L388.0,392.0 L389.2,392.0 L390.3,392.0 L391.5,392.0 L392.7,392.0 L393.8,392.1 L395.0,392.1 L396.2,392.1 L397.3,392.1 L398.5,392.1 L399.7,392.1 L400.9,392.1 L402.0,392.1 L403.2,392.1 L404.4,392.1 L405.5,392.1 L406.7,392.1 L407.9,392.1 L409.0,392.1 L410.2,392.1 L411.4,392.1 L412.5,392.1 L413.7,392.1 L414.9,392.1 L416.0,392.1 L417.2,392.1 L418.4,392.1 L419.6,392.1 L420.7,392.1 L421.9,392.1 L423.1,392.1 L424.2,392.1 L425.4,392.1 L426.6,392.1 L427.7,392.1 L428.9,392.1 L430.1,392.1 L431.2,392.1 L432.4,392.1 L433.6,392.1 L434.7,392.1 L435.9,392.1 L437.1,392.1 L438.2,392.1 L439.4,392.1 L440.6,392.1 L441.8,392.1 L442.9,392.1 L444.1,392.1 L445.3,392.1 L446.4,392.1 L447.6,392.1 L448.8,392.1 L449.9,392.1 L451.1,392.1 L452.3,392.1 L453.4,392.1 L454.6,392.1 L455.8,392.1 L457.0,392.1 L458.1,392.1 L459.3,392.1 L460.5,392.1 L461.6,392.1 L462.8,392.1 L464.0,392.1 L465.1,392.1 L466.3,392.1 L467.5,392.1 L468.6,392.1 L469.8,392.1 L471.0,392.1 L472.1,392.1 L473.3,392.1 L474.5,392.1 L475.6,392.1 L476.8,392.1 L478.0,392.1 L479.2,392.1 L480.3,392.1 L481.5,392.1 L482.7,392.1 L483.8,392.1 L485.0,392.1 L486.2,392.1 L487.3,392.1 L488.5,392.1 L489.7,392.1 L490.8,392.1 L492.0,392.1 L493.2,392.1 L494.4,392.1 L495.5,392.1 L496.7,392.1 L497.9,392.1 L499.0,392.1 L500.2,392.1 L501.4,392.1 L502.5,392.1 L503.7,392.1 L504.9,392.1 L506.0,392.1 L507.2,392.1 L508.4,392.1 L509.5,392.1 L510.7,392.1 L511.9,392.1 L513.1,392.1 L514.2,392.1 L515.4,392.1 L516.6,392.1 L517.7,392.1 L518.9,392.1 L520.1,392.1 L521.2,392.1 L522.4,392.1 L523.6,392.1 L524.7,392.1 L525.9,392.1 L527.1,392.1 L528.2,392.1 L529.4,392.1 L530.6,392.1 L531.8,392.1 L532.9,392.1 L534.1,392.1 L535.3,392.1 L536.4,392.1 L537.6,392.1 L538.8,392.1 L539.9,392.1 L541.1,392.1" stroke="#0000ff" stroke-width="1.1" fill="none" stroke-dasharray="11.4 6.4"/>
<path d="M73.6,392.1 L74.8,392.1 L75.9,392.1 L77.1,392.1 L78.3,392.1 L79.4,392.1 L80.6,392.1 L81.8,392.1 L83.0,392.1 L84.1,392.1 L85.3,392.1 L86.5,392.1 L87.6,392.1 L88.8,392.1 L90.0,392.1 L91.1,392.1 L92.3,392.1 L93.5,392.1 L94.6,392.1 L95.8,392.1 L97.0,392.1 L98.1,392.1 L99.3,392.1 L100.5,392.1 L101.7,392.1 L102.8,392.1 L104.0,392.1 L105.2,392.1 L106.3,392.1 L107.5,392.1 L108.7,392.1 L109.8,392.1 L111.0,392.1 L112.2,392.1 L113.3,392.1 L114.5,392.1 L115.7,392.1 L116.8,392.1 L118.0,392.1 L119.2,392.1 L120.4,392.1 L121.5,392.1 L122.7,392.1 L123.9,392.1 L125.0,392.1 L126.2,392.1 L127.4,392.1 L128.5,392.1 L129.7,392.1 L130.9,392.1 L132.0,392.1 L133.2,392.1 L134.4,392.1 L135.5,392.1 L136.7,392.1 L137.9,392.1 L139.1,392.1 L140.2,392.1 L141.4,392.1 L142.6,392.1 L143.7,392.1 L144.9,392.1 L146.1,392.1 L147.2,392.1 L148.4,392.1 L149.6,392.1 L150.7,392.1 L151.9,392.1 L153.1,392.1 L154.2,392.1 L155.4,392.1 L156.6,392.1 L157.8,392.1 L158.9,392.1 L160.1,392.1 L161.3,392.1 L162.4,392.1 L163.6,392.1 L164.8,392.1 L165.9,392.1 L167.1,392.1 L168.3,392.1 L169.4,392.1 L170.6,392.1 L171.8,392.1 L172.9,392.1 L174.1,392.1 L175.3,392.1 L176.5,392.1 L177.6,392.1 L178.8,392.1 L180.0,392.1 L181.1,392.1 L182.3,392.1 L183.5,392.1 L184.6,392.1 L185.8,392.1 L187.0,392.1 L188.1,392.1 L189.3,392.1 L190.5,392.1 L191.6,392.1 L192.8,392.1 L194.0,392.1 L195.2,392.1 L196.3,392.1 L197.5,392.1 L198.7,392.1 L199.8,392.1 L201.0,392.1 L202.2,392.1 L203.3,392.1 L204.5,392.1 L205.7,392.1 L206.8,392.1 L208.0,392.1 L209.2,392.1 L210.3,392.1 L211.5,392.1 L212.7,392.1 L213.9,392.1 L215.0,392.1 L216.2,392.1 L217.4,392.0 L218.5,392.0 L219.7,392.0 L220.9,392.0 L222.0,392.0 L223.2,391.9 L224.4,391.9 L225.5,391.9 L226.7,391.8 L227.9,391.8 L229.0,391.7 L230.2,391.6 L231.4,391.6 L232.6,391.5 L233.7,391.4 L234.9,391.2 L236.1,391.1 L237.2,391.0 L238.4,390.8 L239.6,390.6 L240.7,390.4 L241.9,390.2 L243.1,389.9 L244.2,389.7 L245.4,389.3 L246.6,389.0 L247.7,388.7 L248.9,388.3 L250.1,387.8 L251.3,387.4 L252.4,386.9 L253.6,386.3 L254.8,385.7 L255.9,385.1 L257.1,384.4 L258.3,383.7 L259.4,382.9 L260.6,382.1 L261.8,381.2 L262.9,380.3 L264.1,379.3 L265.3,378.2 L266.4,377.1 L267.6,375.9 L268.8,374.6 L270.0,373.3 L271.1,371.9 L272.3,370.4 L273.5,368.8 L274.6,367.1 L275.8,365.4 L277.0,363.5 L278.1,361.6 L279.3,359.6 L280.5,357.5 L281.6,355.3 L282.8,353.0 L284.0,350.6 L285.1,348.0 L286.3,345.4 L287.5,342.7 L288.7,339.9 L289.8,337.0 L291.0,333.9 L292.2,330.8 L293.3,327.5 L294.5,324.2 L295.7,320.7 L296.8,317.2 L298.0,313.5 L299.2,309.8 L300.3,306.0 L301.5,302.0 L302.7,298.0 L303.8,293.9 L305.0,289.8 L306.2,285.5 L307.4,281.2 L308.5,276.9 L309.7,272.5 L310.9,268.0 L312.0,263.5 L313.2,259.0 L314.4,254.5 L315.5,250.0 L316.7,245.4 L317.9,240.9 L319.0,236.4 L320.2,232.0 L321.4,227.6 L322.5,223.2 L323.7,219.0 L324.9,214.8 L326.1,210.7 L327.2,206.7 L328.4,202.8 L329.6,199.0 L330.7,195.4 L331.9,192.0 L333.1,188.7 L334.2,185.5 L335.4,182.6 L336.6,179.8 L337.7,177.2 L338.9,174.9 L340.1,172.7 L341.2,170.8 L342.4,169.1 L343.6,167.6 L344.8,166.3 L345.9,165.3 L347.1,164.5 L348.3,164.0 L349.4,163.7 L350.6,163.6 L351.8,163.8 L352.9,164.2 L354.1,164.8 L355.3,165.7 L356.4,166.8 L357.6,168.1 L358.8,169.6 L359.9,171.3 L361.1,173.2 L362.3,175.3 L363.5,177.6 L364.6,180.1 L365.8,182.7 L367.0,185.5 L368.1,188.4 L369.3,191.4 L370.5,194.6 L371.6,197.9 L372.8,201.3 L374.0,204.9 L375.1,208.4 L376.3,212.1 L377.5,215.9 L378.6,219.7 L379.8,223.5 L381.0,227.4 L382.2,231.3 L383.3,235.2 L384.5,239.2 L385.7,243.2 L386.8,247.1 L388.0,251.1 L389.2,255.0 L390.3,259.0 L391.5,262.9 L392.7,266.7 L393.8,270.6 L395.0,274.4 L396.2,278.1 L397.3,281.8 L398.5,285.5 L399.7,289.1 L400.9,292.7 L402.0,296.2 L403.2,299.6 L404.4,303.0 L405.5,306.3 L406.7,309.5 L407.9,312.7 L409.0,315.8 L410.2,318.8 L411.4,321.8 L412.5,324.7 L413.7,327.5 L414.9,330.3 L416.0,333.0 L417.2,335.6 L418.4,338.2 L419.6,340.7 L420.7,343.1 L421.9,345.5 L423.1,347.8 L424.2,350.0 L425.4,352.2 L426.6,354.3 L427.7,356.3 L428.9,358.3 L430.1,360.2 L431.2,362.0 L432.4,363.8 L433.6,365.5 L434.7,367.2 L435.9,368.8 L437.1,370.3 L438.3,371.8 L439.4,373.2 L440.6,374.5 L441.8,375.8 L442.9,377.1 L444.1,378.2 L445.3,379.4 L446.4,380.4 L447.6,381.4 L448.8,382.4 L449.9,383.3 L451.1,384.1 L452.3,384.9 L453.4,385.6 L454.6,386.3 L455.8,386.9 L457.0,387.5 L458.1,388.0 L459.3,388.5 L460.5,389.0 L461.6,389.4 L462.8,389.7 L464.0,390.1 L465.1,390.3 L466.3,390.6 L467.5,390.8 L468.6,391.0 L469.8,391.2 L471.0,391.4 L472.1,391.5 L473.3,391.6 L474.5,391.7 L475.6,391.8 L476.8,391.8 L478.0,391.9 L479.2,391.9 L480.3,392.0 L481.5,392.0 L482.7,392.0 L483.8,392.0 L485.0,392.1 L486.2,392.1 L487.3,392.1 L488.5,392.1 L489.7,392.1 L490.8,392.1 L492.0,392.1 L493.2,392.1 L494.4,392.1 L495.5,392.1 L496.7,392.1 L497.9,392.1 L499.0,392.1 L500.2,392.1 L501.4,392.1 L502.5,392.1 L503.7,392.1 L504.9,392.1 L506.0,392.1 L507.2,392.1 L508.4,392.1 L509.5,392.1 L510.7,392.1 L511.9,392.1 L513.1,392.1 L514.2,392.1 L515.4,392.1 L516.6,392.1 L517.7,392.1 L518.9,392.1 L520.1,392.1 L521.2,392.1 L522.4,392.1 L523.6,392.1 L524.7,392.1 L525.9,392.1 L527.1,392.1 L528.2,392.1 L529.4,392.1 L530.6,392.1 L531.8,392.1 L532.9,392.1 L534.1,392.1 L535.3,392.1 L536.4,392.1 L537.6,392.1 L538.8,392.1 L539.9,392.1 L541.1,392.1" stroke="#ff00ff" stroke-width="1.1" fill="none" stroke-dasharray="9.1 3.1 2.7 2.9"/>
<path d="M73.6,392.1 L74.8,392.1 L75.9,392.1 L77.1,392.1 L78.3,392.1 L79.4,392.1 L80.6,392.1 L81.8,392.1 L82.9,392.1 L84.1,392.1 L85.3,392.1 L86.5,392.1 L87.6,392.1 L88.8,392.1 L90.0,392.1 L91.1,392.1 L92.3,392.1 L93.5,392.1 L94.6,392.1 L95.8,392.1 L97.0,392.1 L98.1,392.1 L99.3,392.1 L100.5,392.1 L101.7,392.1 L102.8,392.1 L104.0,392.1 L105.2,392.1 L106.3,392.1 L107.5,392.1 L108.7,392.1 L109.8,392.1 L111.0,392.1 L112.2,392.1 L113.3,392.1 L114.5,392.1 L115.7,392.1 L116.8,392.1 L118.0,392.1 L119.2,392.1 L120.4,392.1 L121.5,392.1 L122.7,392.1 L123.9,392.1 L125.0,392.1 L126.2,392.1 L127.4,392.1 L128.5,392.1 L129.7,392.1 L130.9,392.0 L132.0,392.0 L133.2,392.0 L134.4,392.0 L135.5,391.9 L136.7,391.9 L137.9,391.8 L139.1,391.8 L140.2,391.7 L141.4,391.6 L142.6,391.5 L143.7,391.4 L144.9,391.2 L146.1,391.0 L147.2,390.8 L148.4,390.6 L149.6,390.3 L150.7,390.1 L151.9,389.7 L153.1,389.4 L154.2,389.0 L155.4,388.5 L156.6,388.0 L157.7,387.5 L158.9,386.9 L160.1,386.3 L161.3,385.6 L162.4,384.9 L163.6,384.1 L164.8,383.3 L165.9,382.4 L167.1,381.4 L168.3,380.4 L169.4,379.4 L170.6,378.2 L171.8,377.1 L172.9,375.8 L174.1,374.5 L175.3,373.2 L176.4,371.8 L177.6,370.3 L178.8,368.8 L180.0,367.2 L181.1,365.5 L182.3,363.8 L183.5,362.0 L184.6,360.2 L185.8,358.3 L187.0,356.3 L188.1,354.3 L189.3,352.2 L190.5,350.0 L191.6,347.8 L192.8,345.5 L194.0,343.1 L195.2,340.7 L196.3,338.2 L197.5,335.6 L198.7,333.0 L199.8,330.3 L201.0,327.5 L202.2,324.7 L203.3,321.8 L204.5,318.8 L205.7,315.8 L206.8,312.7 L208.0,309.5 L209.2,306.3 L210.3,303.0 L211.5,299.6 L212.7,296.2 L213.9,292.7 L215.0,289.1 L216.2,285.5 L217.4,281.8 L218.5,278.1 L219.7,274.4 L220.9,270.6 L222.0,266.7 L223.2,262.9 L224.4,259.0 L225.5,255.0 L226.7,251.1 L227.9,247.1 L229.0,243.2 L230.2,239.2 L231.4,235.2 L232.6,231.3 L233.7,227.4 L234.9,223.5 L236.1,219.7 L237.2,215.9 L238.4,212.1 L239.6,208.4 L240.7,204.9 L241.9,201.3 L243.1,197.9 L244.2,194.6 L245.4,191.4 L246.6,188.4 L247.7,185.5 L248.9,182.7 L250.1,180.1 L251.2,177.6 L252.4,175.3 L253.6,173.2 L254.8,171.3 L255.9,169.6 L257.1,168.1 L258.3,166.8 L259.4,165.7 L260.6,164.8 L261.8,164.2 L262.9,163.8 L264.1,163.6 L265.3,163.7 L266.4,164.0 L267.6,164.5 L268.8,165.3 L269.9,166.3 L271.1,167.6 L272.3,169.1 L273.5,170.8 L274.6,172.7 L275.8,174.9 L277.0,177.2 L278.1,179.8 L279.3,182.6 L280.5,185.5 L281.6,188.7 L282.8,192.0 L284.0,195.4 L285.1,199.0 L286.3,202.8 L287.5,206.7 L288.6,210.7 L289.8,214.8 L291.0,219.0 L292.2,223.2 L293.3,227.6 L294.5,232.0 L295.7,236.4 L296.8,240.9 L298.0,245.4 L299.2,250.0 L300.3,254.5 L301.5,259.0 L302.7,263.5 L303.8,268.0 L305.0,272.5 L306.2,276.9 L307.4,281.2 L308.5,285.5 L309.7,289.8 L310.9,293.9 L312.0,298.0 L313.2,302.0 L314.4,306.0 L315.5,309.8 L316.7,313.5 L317.9,317.2 L319.0,320.7 L320.2,324.2 L321.4,327.5 L322.5,330.8 L323.7,333.9 L324.9,337.0 L326.1,339.9 L327.2,342.7 L328.4,345.4 L329.6,348.0 L330.7,350.6 L331.9,353.0 L333.1,355.3 L334.2,357.5 L335.4,359.6 L336.6,361.6 L337.7,363.5 L338.9,365.4 L340.1,367.1 L341.2,368.8 L342.4,370.4 L343.6,371.9 L344.8,373.3 L345.9,374.6 L347.1,375.9 L348.3,377.1 L349.4,378.2 L350.6,379.3 L351.8,380.3 L352.9,381.2 L354.1,382.1 L355.3,382.9 L356.4,383.7 L357.6,384.4 L358.8,385.1 L359.9,385.7 L361.1,386.3 L362.3,386.9 L363.4,387.4 L364.6,387.8 L365.8,388.3 L367.0,388.7 L368.1,389.0 L369.3,389.3 L370.5,389.7 L371.6,389.9 L372.8,390.2 L374.0,390.4 L375.1,390.6 L376.3,390.8 L377.5,391.0 L378.6,391.1 L379.8,391.2 L381.0,391.4 L382.1,391.5 L383.3,391.6 L384.5,391.6 L385.7,391.7 L386.8,391.8 L388.0,391.8 L389.2,391.9 L390.3,391.9 L391.5,391.9 L392.7,392.0 L393.8,392.0 L395.0,392.0 L396.2,392.0 L397.3,392.0 L398.5,392.1 L399.7,392.1 L400.9,392.1 L402.0,392.1 L403.2,392.1 L404.4,392.1 L405.5,392.1 L406.7,392.1 L407.9,392.1 L409.0,392.1 L410.2,392.1 L411.4,392.1 L412.5,392.1 L413.7,392.1 L414.9,392.1 L416.0,392.1 L417.2,392.1 L418.4,392.1 L419.6,392.1 L420.7,392.1 L421.9,392.1 L423.1,392.1 L424.2,392.1 L425.4,392.1 L426.6,392.1 L427.7,392.1 L428.9,392.1 L430.1,392.1 L431.2,392.1 L432.4,392.1 L433.6,392.1 L434.7,392.1 L435.9,392.1 L437.1,392.1 L438.2,392.1 L439.4,392.1 L440.6,392.1 L441.8,392.1 L442.9,392.1 L444.1,392.1 L445.3,392.1 L446.4,392.1 L447.6,392.1 L448.8,392.1 L449.9,392.1 L451.1,392.1 L452.3,392.1 L453.4,392.1 L454.6,392.1 L455.8,392.1 L457.0,392.1 L458.1,392.1 L459.3,392.1 L460.5,392.1 L461.6,392.1 L462.8,392.1 L464.0,392.1 L465.1,392.1 L466.3,392.1 L467.5,392.1 L468.6,392.1 L469.8,392.1 L471.0,392.1 L472.1,392.1 L473.3,392.1 L474.5,392.1 L475.6,392.1 L476.8,392.1 L478.0,392.1 L479.2,392.1 L480.3,392.1 L481.5,392.1 L482.7,392.1 L483.8,392.1 L485.0,392.1 L486.2,392.1 L487.3,392.1 L488.5,392.1 L489.7,392.1 L490.8,392.1 L492.0,392.1 L493.2,392.1 L494.4,392.1 L495.5,392.1 L496.7,392.1 L497.9,392.1 L499.0,392.1 L500.2,392.1 L501.4,392.1 L502.5,392.1 L503.7,392.1 L504.9,392.1 L506.0,392.1 L507.2,392.1 L508.4,392.1 L509.5,392.1 L510.7,392.1 L511.9,392.1 L513.1,392.1 L514.2,392.1 L515.4,392.1 L516.6,392.1 L517.7,392.1 L518.9,392.1 L520.1,392.1 L521.2,392.1 L522.4,392.1 L523.6,392.1 L524.7,392.1 L525.9,392.1 L527.1,392.1 L528.2,392.1 L529.4,392.1 L530.6,392.1 L531.8,392.1 L532.9,392.1 L534.1,392.1 L535.3,392.1 L536.4,392.1 L537.6,392.1 L538.8,392.1 L539.9,392.1 L541.1,392.1" stroke="#ff00ff" stroke-width="1.1" fill="none" stroke-dasharray="9.1 3.1 2.7 2.9"/>
<path d="M73.6,392.1 L74.8,392.1 L75.9,392.1 L77.1,392.1 L78.3,392.1 L79.4,392.1 L80.6,392.1 L81.8,392.1 L83.0,392.1 L84.1,392.1 L85.3,392.1 L86.5,392.1 L87.6,392.1 L88.8,392.1 L90.0,392.1 L91.1,392.1 L92.3,392.1 L93.5,392.1 L94.6,392.1 L95.8,392.1 L97.0,392.1 L98.1,392.1 L99.3,392.1 L100.5,392.1 L101.7,392.1 L102.8,392.1 L104.0,392.1 L105.2,392.1 L106.3,392.1 L107.5,392.1 L108.7,392.1 L109.8,392.1 L111.0,392.1 L112.2,392.1 L113.3,392.1 L114.5,392.1 L115.7,392.1 L116.8,392.1 L118.0,392.1 L119.2,392.1 L120.4,392.1 L121.5,392.1 L122.7,392.1 L123.9,392.1 L125.0,392.1 L126.2,392.1 L127.4,392.1 L128.5,392.1 L129.7,392.1 L130.9,392.1 L132.0,392.1 L133.2,392.1 L134.4,392.1 L135.5,392.1 L136.7,392.1 L137.9,392.1 L139.1,392.1 L140.2,392.1 L141.4,392.1 L142.6,392.1 L143.7,392.1 L144.9,392.1 L146.1,392.1 L147.2,392.1 L148.4,392.1 L149.6,392.1 L150.7,392.1 L151.9,392.1 L153.1,392.1 L154.2,392.1 L155.4,392.1 L156.6,392.1 L157.8,392.1 L158.9,392.1 L160.1,392.1 L161.3,392.1 L162.4,392.1 L163.6,392.1 L164.8,392.1 L165.9,392.1 L167.1,392.1 L168.3,392.1 L169.4,392.1 L170.6,392.1 L171.8,392.1 L172.9,392.1 L174.1,392.1 L175.3,392.1 L176.5,392.1 L177.6,392.1 L178.8,392.1 L180.0,392.1 L181.1,392.1 L182.3,392.1 L183.5,392.1 L184.6,392.1 L185.8,392.1 L187.0,392.1 L188.1,392.1 L189.3,392.1 L190.5,392.1 L191.6,392.1 L192.8,392.1 L194.0,392.1 L195.2,392.1 L196.3,392.1 L197.5,392.1 L198.7,392.1 L199.8,392.1 L201.0,392.1 L202.2,392.1 L203.3,392.0 L204.5,392.0 L205.7,392.0 L206.8,392.0 L208.0,392.0 L209.2,392.0 L210.3,391.9 L211.5,391.9 L212.7,391.9 L213.9,391.9 L215.0,391.8 L216.2,391.8 L217.4,391.7 L218.5,391.7 L219.7,391.6 L220.9,391.5 L222.0,391.5 L223.2,391.4 L224.4,391.3 L225.5,391.2 L226.7,391.1 L227.9,391.0 L229.0,390.8 L230.2,390.7 L231.4,390.5 L232.6,390.3 L233.7,390.1 L234.9,389.9 L236.1,389.7 L237.2,389.4 L238.4,389.1 L239.6,388.8 L240.7,388.5 L241.9,388.2 L243.1,387.8 L244.2,387.4 L245.4,387.0 L246.6,386.5 L247.7,386.0 L248.9,385.5 L250.1,385.0 L251.3,384.4 L252.4,383.7 L253.6,383.1 L254.8,382.3 L255.9,381.6 L257.1,380.8 L258.3,379.9 L259.4,379.0 L260.6,378.1 L261.8,377.1 L262.9,376.0 L264.1,374.9 L265.3,373.7 L266.4,372.5 L267.6,371.2 L268.8,369.8 L270.0,368.4 L271.1,366.9 L272.3,365.3 L273.5,363.7 L274.6,362.0 L275.8,360.2 L277.0,358.4 L278.1,356.5 L279.3,354.5 L280.5,352.4 L281.6,350.3 L282.8,348.0 L284.0,345.7 L285.1,343.4 L286.3,340.9 L287.5,338.4 L288.7,335.8 L289.8,333.1 L291.0,330.3 L292.2,327.5 L293.3,324.6 L294.5,321.6 L295.7,318.6 L296.8,315.5 L298.0,312.3 L299.2,309.1 L300.3,305.8 L301.5,302.5 L302.7,299.1 L303.8,295.7 L305.0,292.2 L306.2,288.7 L307.4,285.2 L308.5,281.6 L309.7,278.1 L310.9,274.5 L312.0,270.9 L313.2,267.3 L314.4,263.8 L315.5,260.2 L316.7,256.6 L317.9,253.1 L319.0,249.7 L320.2,246.2 L321.4,242.9 L322.5,239.5 L323.7,236.3 L324.9,233.1 L326.1,230.0 L327.2,227.0 L328.4,224.1 L329.6,221.3 L330.7,218.6 L331.9,216.1 L333.1,213.6 L334.2,211.3 L335.4,209.2 L336.6,207.1 L337.7,205.3 L338.9,203.6 L340.1,202.0 L341.2,200.6 L342.4,199.4 L343.6,198.4 L344.8,197.5 L345.9,196.8 L347.1,196.3 L348.3,196.0 L349.4,195.8 L350.6,195.8 L351.8,196.1 L352.9,196.5 L354.1,197.0 L355.3,197.8 L356.4,198.7 L357.6,199.8 L358.8,201.1 L359.9,202.5 L361.1,204.1 L362.3,205.9 L363.5,207.8 L364.6,209.8 L365.8,212.0 L367.0,214.3 L368.1,216.8 L369.3,219.3 L370.5,222.0 L371.6,224.8 L372.8,227.7 L374.0,230.7 L375.1,233.7 L376.3,236.9 L377.5,240.1 L378.6,243.3 L379.8,246.7 L381.0,250.0 L382.2,253.4 L383.3,256.9 L384.5,260.3 L385.7,263.8 L386.8,267.3 L388.0,270.8 L389.2,274.3 L390.3,277.8 L391.5,281.3 L392.7,284.7 L393.8,288.2 L395.0,291.6 L396.2,295.0 L397.3,298.3 L398.5,301.6 L399.7,304.8 L400.9,308.0 L402.0,311.2 L403.2,314.3 L404.4,317.3 L405.5,320.2 L406.7,323.2 L407.9,326.0 L409.0,328.8 L410.2,331.5 L411.4,334.1 L412.5,336.7 L413.7,339.2 L414.9,341.6 L416.0,343.9 L417.2,346.2 L418.4,348.4 L419.6,350.5 L420.7,352.6 L421.9,354.6 L423.1,356.5 L424.2,358.4 L425.4,360.1 L426.6,361.8 L427.7,363.5 L428.9,365.1 L430.1,366.6 L431.2,368.0 L432.4,369.4 L433.6,370.8 L434.7,372.0 L435.9,373.3 L437.1,374.4 L438.3,375.5 L439.4,376.6 L440.6,377.6 L441.8,378.5 L442.9,379.4 L444.1,380.3 L445.3,381.1 L446.4,381.9 L447.6,382.6 L448.8,383.3 L449.9,383.9 L451.1,384.5 L452.3,385.1 L453.4,385.7 L454.6,386.2 L455.8,386.6 L457.0,387.1 L458.1,387.5 L459.3,387.9 L460.5,388.3 L461.6,388.6 L462.8,388.9 L464.0,389.2 L465.1,389.5 L466.3,389.7 L467.5,389.9 L468.6,390.2 L469.8,390.4 L471.0,390.5 L472.1,390.7 L473.3,390.8 L474.5,391.0 L475.6,391.1 L476.8,391.2 L478.0,391.3 L479.2,391.4 L480.3,391.5 L481.5,391.6 L482.7,391.6 L483.8,391.7 L485.0,391.8 L486.2,391.8 L487.3,391.8 L488.5,391.9 L489.7,391.9 L490.8,391.9 L492.0,392.0 L493.2,392.0 L494.4,392.0 L495.5,392.0 L496.7,392.0 L497.9,392.0 L499.0,392.1 L500.2,392.1 L501.4,392.1 L502.5,392.1 L503.7,392.1 L504.9,392.1 L506.0,392.1 L507.2,392.1 L508.4,392.1 L509.5,392.1 L510.7,392.1 L511.9,392.1 L513.1,392.1 L514.2,392.1 L515.4,392.1 L516.6,392.1 L517.7,392.1 L518.9,392.1 L520.1,392.1 L521.2,392.1 L522.4,392.1 L523.6,392.1 L524.7,392.1 L525.9,392.1 L527.1,392.1 L528.2,392.1 L529.4,392.1 L530.6,392.1 L531.8,392.1 L532.9,392.1 L534.1,392.1 L535.3,392.1 L536.4,392.1 L537.6,392.1 L538.8,392.1 L539.9,392.1 L541.1,392.1" stroke="#000000" stroke-width="1.1" fill="none" />
<path d="M73.6,392.1 L74.8,392.1 L75.9,392.1 L77.1,392.1 L78.3,392.1 L79.4,392.1 L80.6,392.1 L81.8,392.1 L82.9,392.1 L84.1,392.1 L85.3,392.1 L86.5,392.1 L87.6,392.1 L88.8,392.1 L90.0,392.1 L91.1,392.1 L92.3,392.1 L93.5,392.1 L94.6,392.1 L95.8,392.1 L97.0,392.1 L98.1,392.1 L99.3,392.1 L100.5,392.1 L101.7,392.1 L102.8,392.1 L104.0,392.1 L105.2,392.1 L106.3,392.1 L107.5,392.1 L108.7,392.1 L109.8,392.1 L111.0,392.1 L112.2,392.1 L113.3,392.1 L114.5,392.1 L115.7,392.1 L116.8,392.0 L118.0,392.0 L119.2,392.0 L120.4,392.0 L121.5,392.0 L122.7,392.0 L123.9,391.9 L125.0,391.9 L126.2,391.9 L127.4,391.8 L128.5,391.8 L129.7,391.8 L130.9,391.7 L132.0,391.6 L133.2,391.6 L134.4,391.5 L135.5,391.4 L136.7,391.3 L137.9,391.2 L139.1,391.1 L140.2,391.0 L141.4,390.8 L142.6,390.7 L143.7,390.5 L144.9,390.4 L146.1,390.2 L147.2,389.9 L148.4,389.7 L149.6,389.5 L150.7,389.2 L151.9,388.9 L153.1,388.6 L154.2,388.3 L155.4,387.9 L156.6,387.5 L157.7,387.1 L158.9,386.6 L160.1,386.2 L161.3,385.7 L162.4,385.1 L163.6,384.5 L164.8,383.9 L165.9,383.3 L167.1,382.6 L168.3,381.9 L169.4,381.1 L170.6,380.3 L171.8,379.4 L172.9,378.5 L174.1,377.6 L175.3,376.6 L176.4,375.5 L177.6,374.4 L178.8,373.3 L180.0,372.0 L181.1,370.8 L182.3,369.4 L183.5,368.0 L184.6,366.6 L185.8,365.1 L187.0,363.5 L188.1,361.8 L189.3,360.1 L190.5,358.4 L191.6,356.5 L192.8,354.6 L194.0,352.6 L195.2,350.5 L196.3,348.4 L197.5,346.2 L198.7,343.9 L199.8,341.6 L201.0,339.2 L202.2,336.7 L203.3,334.1 L204.5,331.5 L205.7,328.8 L206.8,326.0 L208.0,323.2 L209.2,320.2 L210.3,317.3 L211.5,314.3 L212.7,311.2 L213.9,308.0 L215.0,304.8 L216.2,301.6 L217.4,298.3 L218.5,295.0 L219.7,291.6 L220.9,288.2 L222.0,284.7 L223.2,281.3 L224.4,277.8 L225.5,274.3 L226.7,270.8 L227.9,267.3 L229.0,263.8 L230.2,260.3 L231.4,256.9 L232.6,253.4 L233.7,250.0 L234.9,246.7 L236.1,243.3 L237.2,240.1 L238.4,236.9 L239.6,233.7 L240.7,230.7 L241.9,227.7 L243.1,224.8 L244.2,222.0 L245.4,219.3 L246.6,216.8 L247.7,214.3 L248.9,212.0 L250.1,209.8 L251.2,207.8 L252.4,205.9 L253.6,204.1 L254.8,202.5 L255.9,201.1 L257.1,199.8 L258.3,198.7 L259.4,197.8 L260.6,197.0 L261.8,196.5 L262.9,196.1 L264.1,195.8 L265.3,195.8 L266.4,196.0 L267.6,196.3 L268.8,196.8 L269.9,197.5 L271.1,198.4 L272.3,199.4 L273.5,200.6 L274.6,202.0 L275.8,203.6 L277.0,205.3 L278.1,207.1 L279.3,209.2 L280.5,211.3 L281.6,213.6 L282.8,216.1 L284.0,218.6 L285.1,221.3 L286.3,224.1 L287.5,227.0 L288.6,230.0 L289.8,233.1 L291.0,236.3 L292.2,239.5 L293.3,242.9 L294.5,246.2 L295.7,249.7 L296.8,253.1 L298.0,256.6 L299.2,260.2 L300.3,263.8 L301.5,267.3 L302.7,270.9 L303.8,274.5 L305.0,278.1 L306.2,281.6 L307.4,285.2 L308.5,288.7 L309.7,292.2 L310.9,295.7 L312.0,299.1 L313.2,302.5 L314.4,305.8 L315.5,309.1 L316.7,312.3 L317.9,315.5 L319.0,318.6 L320.2,321.6 L321.4,324.6 L322.5,327.5 L323.7,330.3 L324.9,333.1 L326.1,335.8 L327.2,338.4 L328.4,340.9 L329.6,343.4 L330.7,345.7 L331.9,348.0 L333.1,350.3 L334.2,352.4 L335.4,354.5 L336.6,356.5 L337.7,358.4 L338.9,360.2 L340.1,362.0 L341.2,363.7 L342.4,365.3 L343.6,366.9 L344.8,368.4 L345.9,369.8 L347.1,371.2 L348.3,372.5 L349.4,373.7 L350.6,374.9 L351.8,376.0 L352.9,377.1 L354.1,378.1 L355.3,379.0 L356.4,379.9 L357.6,380.8 L358.8,381.6 L359.9,382.3 L361.1,383.1 L362.3,383.7 L363.4,384.4 L364.6,385.0 L365.8,385.5 L367.0,386.0 L368.1,386.5 L369.3,387.0 L370.5,387.4 L371.6,387.8 L372.8,388.2 L374.0,388.5 L375.1,388.8 L376.3,389.1 L377.5,389.4 L378.6,389.7 L379.8,389.9 L381.0,390.1 L382.1,390.3 L383.3,390.5 L384.5,390.7 L385.7,390.8 L386.8,391.0 L388.0,391.1 L389.2,391.2 L390.3,391.3 L391.5,391.4 L392.7,391.5 L393.8,391.5 L395.0,391.6 L396.2,391.7 L397.3,391.7 L398.5,391.8 L399.7,391.8 L400.9,391.9 L402.0,391.9 L403.2,391.9 L404.4,391.9 L405.5,392.0 L406.7,392.0 L407.9,392.0 L409.0,392.0 L410.2,392.0 L411.4,392.0 L412.5,392.1 L413.7,392.1 L414.9,392.1 L416.0,392.1 L417.2,392.1 L418.4,392.1 L419.6,392.1 L420.7,392.1 L421.9,392.1 L423.1,392.1 L424.2,392.1 L425.4,392.1 L426.6,392.1 L427.7,392.1 L428.9,392.1 L430.1,392.1 L431.2,392.1 L432.4,392.1 L433.6,392.1 L434.7,392.1 L435.9,392.1 L437.1,392.1 L438.2,392.1 L439.4,392.1 L440.6,392.1 L441.8,392.1 L442.9,392.1 L444.1,392.1 L445.3,392.1 L446.4,392.1 L447.6,392.1 L448.8,392.1 L449.9,392.1 L451.1,392.1 L452.3,392.1 L453.4,392.1 L454.6,392.1 L455.8,392.1 L457.0,392.1 L458.1,392.1 L459.3,392.1 L460.5,392.1 L461.6,392.1 L462.8,392.1 L464.0,392.1 L465.1,392.1 L466.3,392.1 L467.5,392.1 L468.6,392.1 L469.8,392.1 L471.0,392.1 L472.1,392.1 L473.3,392.1 L474.5,392.1 L475.6,392.1 L476.8,392.1 L478.0,392.1 L479.2,392.1 L480.3,392.1 L481.5,392.1 L482.7,392.1 L483.8,392.1 L485.0,392.1 L486.2,392.1 L487.3,392.1 L488.5,392.1 L489.7,392.1 L490.8,392.1 L492.0,392.1 L493.2,392.1 L494.4,392.1 L495.5,392.1 L496.7,392.1 L497.9,392.1 L499.0,392.1 L500.2,392.1 L501.4,392.1 L502.5,392.1 L503.7,392.1 L504.9,392.1 L506.0,392.1 L507.2,392.1 L508.4,392.1 L509.5,392.1 L510.7,392.1 L511.9,392.1 L513.1,392.1 L514.2,392.1 L515.4,392.1 L516.6,392.1 L517.7,392.1 L518.9,392.1 L520.1,392.1 L521.2,392.1 L522.4,392.1 L523.6,392.1 L524.7,392.1 L525.9,392.1 L527.1,392.1 L528.2,392.1 L529.4,392.1 L530.6,392.1 L531.8,392.1 L532.9,392.1 L534.1,392.1 L535.3,392.1 L536.4,392.1 L537.6,392.1 L538.8,392.1 L539.9,392.1 L541.1,392.1" stroke="#000000" stroke-width="1.1" fill="none" />
<path d="M73.6,392.1 L74.8,392.1 L75.9,392.1 L77.1,392.1 L78.3,392.1 L79.4,392.1 L80.6,392.1 L81.8,392.1 L83.0,392.1 L84.1,392.1 L85.3,392.1 L86.5,392.1 L87.6,392.1 L88.8,392.1 L90.0,392.1 L91.1,392.1 L92.3,392.1 L93.5,392.1 L94.6,392.1 L95.8,392.1 L97.0,392.1 L98.1,392.1 L99.3,392.1 L100.5,392.1 L101.7,392.1 L102.8,392.1 L104.0,392.1 L105.2,392.1 L106.3,392.1 L107.5,392.1 L108.7,392.1 L109.8,392.1 L111.0,392.1 L112.2,392.1 L113.3,392.1 L114.5,392.1 L115.7,392.1 L116.8,392.1 L118.0,392.1 L119.2,392.1 L120.4,392.1 L121.5,392.1 L122.7,392.1 L123.9,392.1 L125.0,392.1 L126.2,392.1 L127.4,392.1 L128.5,392.1 L129.7,392.1 L130.9,392.1 L132.0,392.1 L133.2,392.1 L134.4,392.1 L135.5,392.1 L136.7,392.1 L137.9,392.1 L139.1,392.1 L140.2,392.1 L141.4,392.1 L142.6,392.1 L143.7,392.1 L144.9,392.1 L146.1,392.1 L147.2,392.1 L148.4,392.1 L149.6,392.1 L150.7,392.1 L151.9,392.1 L153.1,392.1 L154.2,392.1 L155.4,392.1 L156.6,392.1 L157.8,392.1 L158.9,392.1 L160.1,392.1 L161.3,392.1 L162.4,392.1 L163.6,392.1 L164.8,392.1 L165.9,392.1 L167.1,392.1 L168.3,392.1 L169.4,392.1 L170.6,392.1 L171.8,392.1 L172.9,392.1 L174.1,392.1 L175.3,392.1 L176.5,392.1 L177.6,392.1 L178.8,392.1 L180.0,392.1 L181.1,392.1 L182.3,392.1 L183.5,392.1 L184.6,392.1 L185.8,392.1 L187.0,392.1 L188.1,392.1 L189.3,392.1 L190.5,392.1 L191.6,392.1 L192.8,392.1 L194.0,392.0 L195.2,392.0 L196.3,392.0 L197.5,392.0 L198.7,392.0 L199.8,392.0 L201.0,392.0 L202.2,392.0 L203.3,391.9 L204.5,391.9 L205.7,391.9 L206.8,391.9 L208.0,391.8 L209.2,391.8 L210.3,391.7 L211.5,391.7 L212.7,391.6 L213.9,391.6 L215.0,391.5 L216.2,391.4 L217.4,391.4 L218.5,391.3 L219.7,391.2 L220.9,391.1 L222.0,391.0 L223.2,390.8 L224.4,390.7 L225.5,390.6 L226.7,390.4 L227.9,390.2 L229.0,390.0 L230.2,389.8 L231.4,389.6 L232.6,389.4 L233.7,389.1 L234.9,388.9 L236.1,388.6 L237.2,388.2 L238.4,387.9 L239.6,387.5 L240.7,387.1 L241.9,386.7 L243.1,386.3 L244.2,385.8 L245.4,385.3 L246.6,384.8 L247.7,384.2 L248.9,383.6 L250.1,382.9 L251.3,382.3 L252.4,381.5 L253.6,380.8 L254.8,380.0 L255.9,379.1 L257.1,378.2 L258.3,377.3 L259.4,376.3 L260.6,375.2 L261.8,374.1 L262.9,373.0 L264.1,371.8 L265.3,370.5 L266.4,369.2 L267.6,367.8 L268.8,366.4 L270.0,364.9 L271.1,363.4 L272.3,361.7 L273.5,360.1 L274.6,358.3 L275.8,356.5 L277.0,354.6 L278.1,352.7 L279.3,350.7 L280.5,348.6 L281.6,346.5 L282.8,344.3 L284.0,342.0 L285.1,339.7 L286.3,337.3 L287.5,334.8 L288.7,332.3 L289.8,329.7 L291.0,327.1 L292.2,324.4 L293.3,321.7 L294.5,318.9 L295.7,316.1 L296.8,313.2 L298.0,310.2 L299.2,307.3 L300.3,304.3 L301.5,301.2 L302.7,298.2 L303.8,295.1 L305.0,292.0 L306.2,288.9 L307.4,285.7 L308.5,282.6 L309.7,279.5 L310.9,276.3 L312.0,273.2 L313.2,270.1 L314.4,267.1 L315.5,264.0 L316.7,261.0 L317.9,258.0 L319.0,255.1 L320.2,252.2 L321.4,249.4 L322.5,246.7 L323.7,244.0 L324.9,241.4 L326.1,238.9 L327.2,236.5 L328.4,234.1 L329.6,231.9 L330.7,229.8 L331.9,227.8 L333.1,225.9 L334.2,224.1 L335.4,222.5 L336.6,220.9 L337.7,219.6 L338.9,218.3 L340.1,217.2 L341.2,216.3 L342.4,215.5 L343.6,214.8 L344.8,214.3 L345.9,213.9 L347.1,213.7 L348.3,213.7 L349.4,213.8 L350.6,214.0 L351.8,214.4 L352.9,215.0 L354.1,215.7 L355.3,216.5 L356.4,217.5 L357.6,218.7 L358.8,220.0 L359.9,221.4 L361.1,223.0 L362.3,224.7 L363.5,226.5 L364.6,228.4 L365.8,230.4 L367.0,232.6 L368.1,234.9 L369.3,237.2 L370.5,239.7 L371.6,242.3 L372.8,244.9 L374.0,247.6 L375.1,250.4 L376.3,253.2 L377.5,256.1 L378.6,259.1 L379.8,262.1 L381.0,265.1 L382.2,268.2 L383.3,271.3 L384.5,274.4 L385.7,277.5 L386.8,280.7 L388.0,283.8 L389.2,287.0 L390.3,290.1 L391.5,293.2 L392.7,296.3 L393.8,299.4 L395.0,302.5 L396.2,305.5 L397.3,308.5 L398.5,311.5 L399.7,314.4 L400.9,317.3 L402.0,320.1 L403.2,322.9 L404.4,325.6 L405.5,328.2 L406.7,330.9 L407.9,333.4 L409.0,335.9 L410.2,338.3 L411.4,340.7 L412.5,343.0 L413.7,345.2 L414.9,347.4 L416.0,349.5 L417.2,351.5 L418.4,353.5 L419.6,355.4 L420.7,357.2 L421.9,359.0 L423.1,360.7 L424.2,362.4 L425.4,363.9 L426.6,365.5 L427.7,366.9 L428.9,368.3 L430.1,369.7 L431.2,370.9 L432.4,372.2 L433.6,373.3 L434.7,374.5 L435.9,375.5 L437.1,376.5 L438.3,377.5 L439.4,378.4 L440.6,379.3 L441.8,380.1 L442.9,380.9 L444.1,381.6 L445.3,382.3 L446.4,383.0 L447.6,383.6 L448.8,384.2 L449.9,384.8 L451.1,385.3 L452.3,385.8 L453.4,386.2 L454.6,386.7 L455.8,387.1 L457.0,387.5 L458.1,387.8 L459.3,388.2 L460.5,388.5 L461.6,388.8 L462.8,389.0 L464.0,389.3 L465.1,389.5 L466.3,389.7 L467.5,389.9 L468.6,390.1 L469.8,390.3 L471.0,390.5 L472.1,390.6 L473.3,390.7 L474.5,390.9 L475.6,391.0 L476.8,391.1 L478.0,391.2 L479.2,391.3 L480.3,391.4 L481.5,391.4 L482.7,391.5 L483.8,391.6 L485.0,391.6 L486.2,391.7 L487.3,391.7 L488.5,391.8 L489.7,391.8 L490.8,391.8 L492.0,391.9 L493.2,391.9 L494.4,391.9 L495.5,391.9 L496.7,392.0 L497.9,392.0 L499.0,392.0 L500.2,392.0 L501.4,392.0 L502.5,392.0 L503.7,392.0 L504.9,392.0 L506.0,392.1 L507.2,392.1 L508.4,392.1 L509.5,392.1 L510.7,392.1 L511.9,392.1 L513.1,392.1 L514.2,392.1 L515.4,392.1 L516.6,392.1 L517.7,392.1 L518.9,392.1 L520.1,392.1 L521.2,392.1 L522.4,392.1 L523.6,392.1 L524.7,392.1 L525.9,392.1 L527.1,392.1 L528.2,392.1 L529.4,392.1 L530.6,392.1 L531.8,392.1 L532.9,392.1 L534.1,392.1 L535.3,392.1 L536.4,392.1 L537.6,392.1 L538.8,392.1 L539.9,392.1 L541.1,392.1" stroke="#ffa500" stroke-width="1.1" fill="none" />
<path d="M73.6,392.1 L74.8,392.1 L75.9,392.1 L77.1,392.1 L78.3,392.1 L79.4,392.1 L80.6,392.1 L81.8,392.1 L82.9,392.1 L84.1,392.1 L85.3,392.1 L86.5,392.1 L87.6,392.1 L88.8,392.1 L90.0,392.1 L91.1,392.1 L92.3,392.1 L93.5,392.1 L94.6,392.1 L95.8,392.1 L97.0,392.1 L98.1,392.1 L99.3,392.1 L100.5,392.1 L101.7,392.1 L102.8,392.1 L104.0,392.1 L105.2,392.1 L106.3,392.1 L107.5,392.1 L108.7,392.1 L109.8,392.0 L111.0,392.0 L112.2,392.0 L113.3,392.0 L114.5,392.0 L115.7,392.0 L116.8,392.0 L118.0,392.0 L119.2,391.9 L120.4,391.9 L121.5,391.9 L122.7,391.9 L123.9,391.8 L125.0,391.8 L126.2,391.8 L127.4,391.7 L128.5,391.7 L129.7,391.6 L130.9,391.6 L132.0,391.5 L133.2,391.4 L134.4,391.4 L135.5,391.3 L136.7,391.2 L137.9,391.1 L139.1,391.0 L140.2,390.9 L141.4,390.7 L142.6,390.6 L143.7,390.5 L144.9,390.3 L146.1,390.1 L147.2,389.9 L148.4,389.7 L149.6,389.5 L150.7,389.3 L151.9,389.0 L153.1,388.8 L154.2,388.5 L155.4,388.2 L156.6,387.8 L157.7,387.5 L158.9,387.1 L160.1,386.7 L161.3,386.2 L162.4,385.8 L163.6,385.3 L164.8,384.8 L165.9,384.2 L167.1,383.6 L168.3,383.0 L169.4,382.3 L170.6,381.6 L171.8,380.9 L172.9,380.1 L174.1,379.3 L175.3,378.4 L176.4,377.5 L177.6,376.5 L178.8,375.5 L180.0,374.5 L181.1,373.3 L182.3,372.2 L183.5,370.9 L184.6,369.7 L185.8,368.3 L187.0,366.9 L188.1,365.5 L189.3,363.9 L190.5,362.4 L191.6,360.7 L192.8,359.0 L194.0,357.2 L195.2,355.4 L196.3,353.5 L197.5,351.5 L198.7,349.5 L199.8,347.4 L201.0,345.2 L202.2,343.0 L203.3,340.7 L204.5,338.3 L205.7,335.9 L206.8,333.4 L208.0,330.9 L209.2,328.2 L210.3,325.6 L211.5,322.9 L212.7,320.1 L213.9,317.3 L215.0,314.4 L216.2,311.5 L217.4,308.5 L218.5,305.5 L219.7,302.5 L220.9,299.4 L222.0,296.3 L223.2,293.2 L224.4,290.1 L225.5,287.0 L226.7,283.8 L227.9,280.7 L229.0,277.5 L230.2,274.4 L231.4,271.3 L232.6,268.2 L233.7,265.1 L234.9,262.1 L236.1,259.1 L237.2,256.1 L238.4,253.2 L239.6,250.4 L240.7,247.6 L241.9,244.9 L243.1,242.3 L244.2,239.7 L245.4,237.2 L246.6,234.9 L247.7,232.6 L248.9,230.4 L250.1,228.4 L251.2,226.5 L252.4,224.7 L253.6,223.0 L254.8,221.4 L255.9,220.0 L257.1,218.7 L258.3,217.5 L259.4,216.5 L260.6,215.7 L261.8,215.0 L262.9,214.4 L264.1,214.0 L265.3,213.8 L266.4,213.7 L267.6,213.7 L268.8,213.9 L269.9,214.3 L271.1,214.8 L272.3,215.5 L273.5,216.3 L274.6,217.2 L275.8,218.3 L277.0,219.6 L278.1,220.9 L279.3,222.5 L280.5,224.1 L281.6,225.9 L282.8,227.8 L284.0,229.8 L285.1,231.9 L286.3,234.1 L287.5,236.5 L288.6,238.9 L289.8,241.4 L291.0,244.0 L292.2,246.7 L293.3,249.4 L294.5,252.2 L295.7,255.1 L296.8,258.0 L298.0,261.0 L299.2,264.0 L300.3,267.1 L301.5,270.1 L302.7,273.2 L303.8,276.3 L305.0,279.5 L306.2,282.6 L307.4,285.7 L308.5,288.9 L309.7,292.0 L310.9,295.1 L312.0,298.2 L313.2,301.2 L314.4,304.3 L315.5,307.3 L316.7,310.2 L317.9,313.2 L319.0,316.1 L320.2,318.9 L321.4,321.7 L322.5,324.4 L323.7,327.1 L324.9,329.7 L326.1,332.3 L327.2,334.8 L328.4,337.3 L329.6,339.7 L330.7,342.0 L331.9,344.3 L333.1,346.5 L334.2,348.6 L335.4,350.7 L336.6,352.7 L337.7,354.6 L338.9,356.5 L340.1,358.3 L341.2,360.1 L342.4,361.7 L343.6,363.4 L344.8,364.9 L345.9,366.4 L347.1,367.8 L348.3,369.2 L349.4,370.5 L350.6,371.8 L351.8,373.0 L352.9,374.1 L354.1,375.2 L355.3,376.3 L356.4,377.3 L357.6,378.2 L358.8,379.1 L359.9,380.0 L361.1,380.8 L362.3,381.5 L363.4,382.3 L364.6,382.9 L365.8,383.6 L367.0,384.2 L368.1,384.8 L369.3,385.3 L370.5,385.8 L371.6,386.3 L372.8,386.7 L374.0,387.1 L375.1,387.5 L376.3,387.9 L377.5,388.2 L378.6,388.6 L379.8,388.9 L381.0,389.1 L382.1,389.4 L383.3,389.6 L384.5,389.8 L385.7,390.0 L386.8,390.2 L388.0,390.4 L389.2,390.6 L390.3,390.7 L391.5,390.8 L392.7,391.0 L393.8,391.1 L395.0,391.2 L396.2,391.3 L397.3,391.4 L398.5,391.4 L399.7,391.5 L400.9,391.6 L402.0,391.6 L403.2,391.7 L404.4,391.7 L405.5,391.8 L406.7,391.8 L407.9,391.9 L409.0,391.9 L410.2,391.9 L411.4,391.9 L412.5,392.0 L413.7,392.0 L414.9,392.0 L416.0,392.0 L417.2,392.0 L418.4,392.0 L419.6,392.0 L420.7,392.0 L421.9,392.1 L423.1,392.1 L424.2,392.1 L425.4,392.1 L426.6,392.1 L427.7,392.1 L428.9,392.1 L430.1,392.1 L431.2,392.1 L432.4,392.1 L433.6,392.1 L434.7,392.1 L435.9,392.1 L437.1,392.1 L438.2,392.1 L439.4,392.1 L440.6,392.1 L441.8,392.1 L442.9,392.1 L444.1,392.1 L445.3,392.1 L446.4,392.1 L447.6,392.1 L448.8,392.1 L449.9,392.1 L451.1,392.1 L452.3,392.1 L453.4,392.1 L454.6,392.1 L455.8,392.1 L457.0,392.1 L458.1,392.1 L459.3,392.1 L460.5,392.1 L461.6,392.1 L462.8,392.1 L464.0,392.1 L465.1,392.1 L466.3,392.1 L467.5,392.1 L468.6,392.1 L469.8,392.1 L471.0,392.1 L472.1,392.1 L473.3,392.1 L474.5,392.1 L475.6,392.1 L476.8,392.1 L478.0,392.1 L479.2,392.1 L480.3,392.1 L481.5,392.1 L482.7,392.1 L483.8,392.1 L485.0,392.1 L486.2,392.1 L487.3,392.1 L488.5,392.1 L489.7,392.1 L490.8,392.1 L492.0,392.1 L493.2,392.1 L494.4,392.1 L495.5,392.1 L496.7,392.1 L497.9,392.1 L499.0,392.1 L500.2,392.1 L501.4,392.1 L502.5,392.1 L503.7,392.1 L504.9,392.1 L506.0,392.1 L507.2,392.1 L508.4,392.1 L509.5,392.1 L510.7,392.1 L511.9,392.1 L513.1,392.1 L514.2,392.1 L515.4,392.1 L516.6,392.1 L517.7,392.1 L518.9,392.1 L520.1,392.1 L521.2,392.1 L522.4,392.1 L523.6,392.1 L524.7,392.1 L525.9,392.1 L527.1,392.1 L528.2,392.1 L529.4,392.1 L530.6,392.1 L531.8,392.1 L532.9,392.1 L534.1,392.1 L535.3,392.1 L536.4,392.1 L537.6,392.1 L538.8,392.1 L539.9,392.1 L541.1,392.1" stroke="#ffa500" stroke-width="1.1" fill="none" />
<path d="M73.6,392.4 L130.0,392.4 L135.0,391.8 L140.0,390.4 L148.8,386.7 L154.7,383.1 L159.2,381.6 L162.1,380.8 L167.3,375.7 L172.4,372.0 L178.3,368.3 L184.2,363.2 L188.6,361.0 L190.0,357.5 L192.5,350.0 L195.2,341.8 L198.0,339.5 L200.7,338.9 L202.5,337.5 L205.2,327.0 L207.9,319.8 L209.7,313.0 L212.0,303.0 L217.0,287.0 L221.0,275.0 L225.2,259.5 L228.6,249.3 L232.0,244.2 L237.1,229.8 L244.0,210.0 L246.8,201.7 L249.5,192.2 L252.2,181.3 L254.3,173.1 L257.0,163.6 L260.4,160.9 L263.1,158.8 L265.1,165.0 L267.2,167.7 L268.5,169.0 L269.9,165.0 L271.9,170.4 L274.7,171.8 L276.0,177.2 L278.7,185.4 L282.1,193.5 L285.0,199.0 L289.0,210.0 L293.2,221.5 L296.5,233.0 L300.2,228.3 L302.9,235.3 L305.4,248.0 L305.9,255.0 L308.3,270.9 L310.6,286.7 L313.8,299.4 L317.0,305.8 L320.2,310.6 L322.5,318.5 L325.9,329.9 L330.0,343.2 L334.0,352.7 L336.1,363.6 L339.5,369.0 L343.6,370.4 L346.3,375.8 L350.4,379.9 L354.5,384.0 L359.9,386.7 L366.7,389.4 L375.0,391.2 L390.0,391.9 L400.0,392.4 L541.2,392.4" stroke="#ff0000" stroke-width="1.3" fill="none" stroke-linejoin="round"/>
<path d="M73.6,392.4 L75.1,392.4 L76.6,392.4 L78.2,392.4 L79.7,392.4 L81.2,392.4 L82.7,392.4 L84.3,392.4 L85.8,392.4 L87.3,392.4 L88.8,392.4 L90.4,392.4 L91.9,392.4 L93.4,392.4 L94.9,392.4 L96.5,392.4 L98.0,392.4 L99.5,392.4 L101.0,392.4 L102.6,392.4 L104.1,392.4 L105.6,392.4 L107.1,392.4 L108.7,392.4 L110.2,392.4 L111.7,392.4 L113.2,392.4 L114.8,392.4 L116.3,392.4 L117.8,392.4 L119.3,392.4 L120.9,392.4 L122.4,392.4 L123.9,392.4 L125.4,392.4 L127.0,392.4 L128.5,392.4 L130.0,392.4 L131.7,392.2 L133.3,392.0 L135.0,391.8 L136.7,391.3 L138.3,390.9 L140.1,390.7 L141.6,390.2 L143.2,389.8 L144.6,389.1 L146.1,388.6 L147.8,388.3 L149.1,387.4 L150.7,386.4 L152.2,385.7 L153.5,384.5 L154.9,383.6 L156.4,383.3 L158.0,382.9 L159.5,382.6 L160.9,382.1 L162.5,381.5 L163.9,380.1 L165.2,378.7 L166.1,377.1 L167.4,375.9 L168.7,374.9 L170.1,374.2 L171.5,373.4 L172.7,372.4 L174.1,371.5 L175.7,370.7 L176.9,369.3 L178.2,368.2 L179.5,367.3 L180.9,366.6 L182.1,365.6 L183.5,364.8 L184.6,363.8 L186.0,363.1 L187.5,362.4 L189.0,361.4 L189.8,359.5 L190.7,357.7 L191.2,356.2 L191.4,354.6 L191.8,353.1 L192.3,351.6 L192.7,350.1 L193.5,348.5 L194.1,346.9 L194.9,345.3 L195.5,343.7 L196.0,342.3 L197.2,341.3 L198.3,340.2 L201.1,339.7 L202.9,337.8 L203.5,336.2 L203.5,334.5 L203.5,333.0 L203.7,331.4 L204.2,329.9 L204.5,328.4 L205.6,327.1 L206.3,325.8 L206.8,324.3 L207.5,322.9 L208.1,321.5 L208.3,319.9 L208.8,318.2 L209.5,316.6 L210.0,314.9 L210.2,313.1 L210.6,311.5 L211.0,309.8 L211.1,308.1 L211.4,306.4 L211.9,304.7 L212.4,303.1 L212.9,301.7 L213.5,300.3 L213.9,298.8 L214.4,297.4 L214.4,295.8 L214.6,294.2 L215.1,292.8 L215.3,291.3 L215.9,289.9 L216.4,288.4 L217.2,287.1 L217.5,285.5 L218.5,284.2 L218.9,282.6 L219.4,281.1 L220.0,279.7 L220.9,278.3 L221.2,276.7 L221.7,275.2 L222.3,273.7 L222.4,272.0 L222.7,270.5 L223.1,268.9 L223.5,267.4 L223.8,265.8 L224.3,264.3 L224.3,262.6 L225.1,261.1 L225.5,259.6 L226.2,258.2 L226.8,256.8 L227.4,255.4 L227.6,253.8 L228.0,252.4 L228.4,250.8 L228.8,249.4 L229.7,248.2 L230.4,246.8 L231.2,245.5 L232.3,244.4 L232.8,242.9 L233.2,241.4 L234.0,240.0 L234.8,238.7 L234.8,237.1 L235.4,235.7 L236.0,234.3 L236.2,232.7 L236.6,231.2 L237.3,229.9 L237.9,228.4 L238.4,226.8 L239.4,225.5 L239.7,223.9 L240.2,222.3 L240.5,220.7 L240.9,219.2 L241.7,217.7 L242.2,216.2 L242.9,214.7 L243.7,213.3 L244.4,211.9 L244.5,210.2 L245.4,208.6 L245.8,206.9 L246.3,205.2 L247.1,203.6 L248.1,202.1 L248.6,200.5 L249.3,199.0 L249.6,197.4 L249.7,195.7 L250.0,194.1 L250.6,192.5 L250.8,190.9 L251.5,189.4 L252.6,188.0 L252.9,186.4 L253.3,184.9 L253.6,183.3 L254.3,181.8 L254.1,180.0 L254.5,178.4 L254.8,176.7 L255.6,175.2 L256.1,173.6 L257.4,172.3 L257.3,170.5 L257.0,168.7 L257.5,167.2 L257.0,165.3 L257.0,163.6 L259.1,162.8 L260.8,161.4 L261.6,159.6 L263.1,158.9 L263.4,160.4 L264.3,161.8 L264.3,163.6 L264.4,165.4 L266.0,166.5 L267.1,167.8 L268.5,168.9 L268.6,166.8 L269.9,164.8 L270.3,166.9 L270.8,168.8 L271.6,170.7 L273.0,171.8 L274.5,172.0 L275.1,173.6 L275.6,175.4 L276.0,177.2 L276.2,178.9 L276.4,180.7 L276.0,182.6 L277.0,184.1 L277.1,186.0 L277.9,187.6 L278.7,189.2 L280.4,190.4 L280.8,192.1 L281.6,193.8 L282.3,195.2 L283.0,196.5 L283.4,198.1 L283.6,199.6 L284.4,201.0 L285.6,202.3 L286.4,203.8 L287.5,205.2 L289.2,206.4 L289.9,207.9 L289.5,209.8 L289.8,211.3 L290.2,212.8 L290.1,214.5 L290.3,216.0 L291.1,217.4 L291.6,218.8 L291.9,220.3 L292.3,221.8 L292.8,223.4 L293.3,225.0 L293.7,226.7 L294.4,228.3 L294.8,229.9 L295.6,231.5 L296.5,233.6 L298.0,231.6 L299.3,230.2 L300.2,228.7 L300.5,229.8 L300.9,231.2 L301.0,232.8 L301.6,234.2 L302.0,235.6 L302.0,237.1 L303.1,238.6 L303.6,240.1 L303.8,241.7 L304.3,243.3 L304.8,244.8 L304.7,246.5 L305.1,248.0 L305.0,249.8 L305.1,251.5 L305.0,253.3 L304.9,255.1 L305.2,256.7 L305.7,258.3 L306.3,259.8 L306.3,261.5 L306.6,263.0 L306.6,264.7 L306.6,266.3 L306.5,267.9 L307.0,269.5 L307.5,271.0 L307.9,272.6 L308.2,274.1 L308.2,275.8 L308.4,277.3 L308.6,278.9 L308.9,280.5 L309.2,282.1 L309.4,283.6 L309.7,285.2 L309.9,286.8 L310.3,288.5 L310.7,290.0 L311.4,291.6 L311.8,293.2 L312.2,294.7 L312.6,296.3 L312.9,297.9 L313.3,299.6 L314.5,301.1 L315.2,302.7 L316.1,304.2 L316.8,305.9 L318.0,307.5 L318.7,309.3 L319.5,310.9 L319.8,312.4 L320.5,313.9 L320.8,315.6 L321.4,317.1 L322.3,318.6 L322.6,320.2 L322.7,322.0 L323.2,323.6 L323.7,325.2 L324.2,326.8 L324.7,328.5 L325.8,329.9 L326.4,331.4 L326.6,332.9 L327.0,334.4 L327.3,335.9 L327.3,337.5 L327.6,339.1 L328.1,340.5 L328.1,342.2 L328.8,343.6 L329.8,345.1 L330.8,346.6 L331.5,348.2 L332.3,349.7 L332.7,351.4 L333.4,352.9 L333.6,354.4 L334.0,355.9 L334.5,357.4 L335.0,359.0 L335.1,360.6 L335.2,362.2 L335.5,363.8 L336.5,365.2 L337.3,366.6 L338.2,368.0 L339.2,369.5 L341.2,370.6 L342.9,371.3 L343.3,372.2 L344.2,373.5 L344.9,374.8 L346.2,375.9 L347.8,377.0 L349.1,378.4 L350.2,380.1 L351.6,381.4 L353.0,382.8 L354.2,384.3 L355.8,384.8 L357.1,385.5 L358.3,386.5 L359.5,387.5 L361.3,388.2 L363.0,388.8 L364.8,389.3 L366.6,389.6 L368.4,389.7 L370.0,390.2 L371.7,390.6 L373.3,390.8 L375.0,391.2 L376.5,391.3 L378.0,391.3 L379.5,391.4 L381.0,391.5 L382.5,391.5 L384.0,391.6 L385.5,391.7 L387.0,391.8 L388.5,391.8 L390.0,391.9 L391.7,392.0 L393.3,392.1 L395.0,392.1 L396.7,392.2 L398.3,392.3 L400.0,392.4 L401.5,392.4 L403.0,392.4 L404.5,392.4 L406.0,392.4 L407.5,392.4 L409.0,392.4 L410.5,392.4 L412.0,392.4 L413.5,392.4 L415.0,392.4 L416.5,392.4 L418.0,392.4 L419.5,392.4 L421.0,392.4 L422.5,392.4 L424.0,392.4 L425.5,392.4 L427.0,392.4 L428.5,392.4 L430.0,392.4 L431.5,392.4 L433.0,392.4 L434.5,392.4 L436.1,392.4 L437.6,392.4 L439.1,392.4 L440.6,392.4 L442.1,392.4 L443.6,392.4 L445.1,392.4 L446.6,392.4 L448.1,392.4 L449.6,392.4 L451.1,392.4 L452.6,392.4 L454.1,392.4 L455.6,392.4 L457.1,392.4 L458.6,392.4 L460.1,392.4 L461.6,392.4 L463.1,392.4 L464.6,392.4 L466.1,392.4 L467.6,392.4 L469.1,392.4 L470.6,392.4 L472.1,392.4 L473.6,392.4 L475.1,392.4 L476.6,392.4 L478.1,392.4 L479.6,392.4 L481.1,392.4 L482.6,392.4 L484.1,392.4 L485.6,392.4 L487.1,392.4 L488.6,392.4 L490.1,392.4 L491.6,392.4 L493.1,392.4 L494.6,392.4 L496.1,392.4 L497.6,392.4 L499.1,392.4 L500.6,392.4 L502.1,392.4 L503.6,392.4 L505.1,392.4 L506.7,392.4 L508.2,392.4 L509.7,392.4 L511.2,392.4 L512.7,392.4 L514.2,392.4 L515.7,392.4 L517.2,392.4 L518.7,392.4 L520.2,392.4 L521.7,392.4 L523.2,392.4 L524.7,392.4 L526.2,392.4 L527.7,392.4 L529.2,392.4 L530.7,392.4 L532.2,392.4 L533.7,392.4 L535.2,392.4 L536.7,392.4 L538.2,392.4 L539.7,392.4 L541.2,392.4" stroke="#ff0000" stroke-width="1.0" fill="none" stroke-linejoin="round"/>
<path d="M73.6,392.4 L75.1,392.4 L76.6,392.4 L78.2,392.4 L79.7,392.4 L81.2,392.4 L82.7,392.4 L84.3,392.4 L85.8,392.4 L87.3,392.4 L88.8,392.4 L90.4,392.4 L91.9,392.4 L93.4,392.4 L94.9,392.4 L96.5,392.4 L98.0,392.4 L99.5,392.4 L101.0,392.4 L102.6,392.4 L104.1,392.4 L105.6,392.4 L107.1,392.4 L108.7,392.4 L110.2,392.4 L111.7,392.4 L113.2,392.4 L114.8,392.4 L116.3,392.4 L117.8,392.4 L119.3,392.4 L120.9,392.4 L122.4,392.4 L123.9,392.4 L125.4,392.4 L127.0,392.4 L128.5,392.4 L130.0,392.4 L131.7,392.2 L133.3,392.0 L135.0,391.8 L136.7,391.3 L138.3,390.9 L139.6,389.2 L141.0,388.6 L142.5,388.2 L144.0,387.7 L145.5,387.0 L147.1,386.7 L148.4,385.9 L149.8,385.0 L151.2,384.0 L152.7,383.2 L154.2,382.1 L155.9,381.8 L157.5,381.4 L159.0,380.9 L160.4,380.4 L161.8,380.4 L162.8,378.9 L164.2,377.7 L165.5,376.5 L166.9,375.3 L168.2,374.3 L169.6,373.5 L170.8,372.5 L172.1,371.6 L173.6,370.7 L175.1,369.7 L176.5,368.7 L178.0,367.9 L179.2,367.0 L180.5,366.0 L181.6,365.0 L182.8,364.0 L184.1,363.0 L185.5,362.1 L186.6,360.8 L187.8,360.3 L188.3,358.9 L188.6,357.0 L189.0,355.5 L190.2,354.2 L190.6,352.7 L191.4,351.3 L192.4,350.0 L193.3,348.4 L193.6,346.7 L194.1,345.1 L194.4,343.4 L194.6,341.4 L196.0,340.0 L197.7,338.8 L200.4,338.2 L202.2,337.3 L202.5,335.9 L202.9,334.4 L203.3,332.9 L203.8,331.4 L204.2,329.9 L204.7,328.5 L205.1,327.0 L205.6,325.5 L205.9,324.0 L205.9,322.4 L206.5,320.9 L207.1,319.5 L207.5,317.9 L207.8,316.1 L208.5,314.5 L208.8,312.8 L209.0,311.1 L208.9,309.3 L209.6,307.7 L210.2,306.1 L210.7,304.5 L211.1,302.8 L212.0,301.4 L212.6,300.0 L212.5,298.4 L212.8,296.9 L213.5,295.5 L214.1,294.1 L214.7,292.7 L215.8,291.4 L216.3,290.0 L216.7,288.5 L217.2,287.1 L217.3,285.4 L217.6,283.9 L218.2,282.4 L219.0,281.0 L219.3,279.4 L219.9,278.0 L220.5,276.5 L221.0,275.0 L221.1,273.4 L221.8,271.9 L222.1,270.3 L222.4,268.7 L222.6,267.1 L223.1,265.6 L223.5,264.0 L223.8,262.5 L224.1,260.9 L224.6,259.3 L224.9,257.8 L224.9,256.2 L225.8,254.9 L226.6,253.5 L227.1,252.0 L227.6,250.6 L228.5,249.3 L229.2,247.8 L230.1,246.6 L230.8,245.2 L231.5,244.0 L231.9,242.5 L232.3,241.1 L232.7,239.6 L233.5,238.2 L234.0,236.8 L234.4,235.3 L235.0,233.9 L235.6,232.5 L235.9,231.0 L236.5,229.6 L237.2,228.1 L238.2,226.8 L238.9,225.3 L239.6,223.8 L240.3,222.4 L240.9,220.9 L240.9,219.2 L240.8,217.4 L241.3,215.9 L241.9,214.4 L241.8,212.7 L242.0,211.0 L242.3,209.4 L243.0,207.8 L243.2,206.0 L243.9,204.4 L244.9,202.9 L246.0,201.5 L246.2,199.8 L247.0,198.3 L247.2,196.7 L247.5,195.1 L247.4,193.3 L248.3,191.9 L248.6,190.3 L249.0,188.8 L249.4,187.2 L250.0,185.7 L250.3,184.1 L250.2,182.4 L250.5,180.9 L250.9,179.2 L252.1,177.8 L252.6,176.2 L253.5,174.6 L254.5,173.1 L255.7,171.8 L255.3,170.0 L255.3,168.3 L256.2,166.8 L256.6,165.2 L256.7,163.3 L258.4,161.8 L260.5,161.1 L262.0,160.1 L263.0,159.2 L263.2,160.5 L264.2,161.9 L265.1,163.3 L266.1,164.5 L267.1,165.6 L268.1,166.9 L268.3,168.4 L267.9,166.6 L269.7,163.8 L272.0,166.3 L273.0,167.9 L273.4,169.2 L274.0,169.7 L276.6,170.4 L276.8,173.2 L277.1,175.0 L277.0,176.9 L276.8,178.8 L276.6,180.6 L278.1,182.0 L279.0,183.5 L280.2,184.8 L281.6,186.1 L282.3,187.7 L283.0,189.3 L283.3,191.1 L284.0,192.6 L284.5,194.0 L285.3,195.3 L285.5,197.0 L286.4,198.4 L286.7,200.2 L287.5,201.6 L288.5,203.1 L289.0,204.7 L289.0,206.5 L288.9,208.3 L288.9,210.0 L288.9,211.7 L289.6,213.1 L290.2,214.5 L291.2,215.7 L292.0,217.0 L292.8,218.4 L293.1,219.9 L294.0,221.2 L294.5,222.9 L295.1,224.5 L295.5,226.2 L295.6,227.9 L296.0,229.6 L296.5,231.2 L296.5,232.8 L297.7,231.4 L298.5,229.5 L300.1,227.7 L301.1,229.6 L301.7,230.9 L302.3,232.3 L302.4,233.9 L303.1,235.3 L303.5,236.8 L304.0,238.4 L304.0,240.0 L305.0,241.5 L305.3,243.1 L305.7,244.6 L305.8,246.3 L306.3,247.9 L305.8,249.7 L306.1,251.5 L306.0,253.2 L306.3,255.0 L306.8,256.5 L307.1,258.1 L307.3,259.7 L308.0,261.2 L308.3,262.8 L308.6,264.3 L309.1,265.9 L309.1,267.5 L308.9,269.2 L308.8,270.8 L308.8,272.4 L309.2,274.0 L309.6,275.5 L310.1,277.1 L310.8,278.6 L310.9,280.2 L311.0,281.8 L311.4,283.4 L311.4,285.0 L311.4,286.5 L311.8,288.1 L312.1,289.7 L312.0,291.4 L312.6,293.0 L312.7,294.6 L313.1,296.2 L313.5,297.8 L313.9,299.4 L314.9,300.8 L316.0,302.3 L316.9,303.9 L317.7,305.4 L319.0,306.8 L319.6,308.7 L320.6,310.4 L321.3,312.0 L322.1,313.5 L322.4,315.1 L323.1,316.6 L323.7,318.1 L324.0,319.8 L324.3,321.5 L324.6,323.2 L325.2,324.8 L325.6,326.4 L325.9,328.1 L325.9,329.9 L326.6,331.3 L327.0,332.8 L327.6,334.2 L328.1,335.7 L329.2,337.0 L329.5,338.5 L329.9,340.0 L330.4,341.5 L331.1,342.8 L331.6,344.4 L332.6,345.8 L333.5,347.3 L334.0,349.0 L334.5,350.6 L335.2,352.3 L335.5,354.0 L335.6,355.6 L335.7,357.2 L335.9,358.8 L336.2,360.3 L336.4,361.9 L336.4,363.5 L337.5,364.6 L338.6,365.8 L339.5,367.1 L339.9,368.5 L341.8,369.0 L343.8,370.1 L344.5,371.6 L344.9,373.1 L345.9,374.3 L346.6,375.6 L347.8,377.0 L349.0,378.6 L350.5,379.8 L351.8,381.2 L353.1,382.6 L354.6,383.8 L356.1,384.3 L357.5,384.7 L358.9,385.4 L360.2,386.0 L362.0,386.5 L363.5,387.4 L365.1,388.5 L366.7,389.3 L368.4,389.5 L370.1,390.0 L371.7,390.5 L373.3,390.8 L375.0,391.2 L376.5,391.3 L378.0,391.3 L379.5,391.4 L381.0,391.5 L382.5,391.5 L384.0,391.6 L385.5,391.7 L387.0,391.8 L388.5,391.8 L390.0,391.9 L391.7,392.0 L393.3,392.1 L395.0,392.1 L396.7,392.2 L398.3,392.3 L400.0,392.4 L401.5,392.4 L403.0,392.4 L404.5,392.4 L406.0,392.4 L407.5,392.4 L409.0,392.4 L410.5,392.4 L412.0,392.4 L413.5,392.4 L415.0,392.4 L416.5,392.4 L418.0,392.4 L419.5,392.4 L421.0,392.4 L422.5,392.4 L424.0,392.4 L425.5,392.4 L427.0,392.4 L428.5,392.4 L430.0,392.4 L431.5,392.4 L433.0,392.4 L434.5,392.4 L436.1,392.4 L437.6,392.4 L439.1,392.4 L440.6,392.4 L442.1,392.4 L443.6,392.4 L445.1,392.4 L446.6,392.4 L448.1,392.4 L449.6,392.4 L451.1,392.4 L452.6,392.4 L454.1,392.4 L455.6,392.4 L457.1,392.4 L458.6,392.4 L460.1,392.4 L461.6,392.4 L463.1,392.4 L464.6,392.4 L466.1,392.4 L467.6,392.4 L469.1,392.4 L470.6,392.4 L472.1,392.4 L473.6,392.4 L475.1,392.4 L476.6,392.4 L478.1,392.4 L479.6,392.4 L481.1,392.4 L482.6,392.4 L484.1,392.4 L485.6,392.4 L487.1,392.4 L488.6,392.4 L490.1,392.4 L491.6,392.4 L493.1,392.4 L494.6,392.4 L496.1,392.4 L497.6,392.4 L499.1,392.4 L500.6,392.4 L502.1,392.4 L503.6,392.4 L505.1,392.4 L506.7,392.4 L508.2,392.4 L509.7,392.4 L511.2,392.4 L512.7,392.4 L514.2,392.4 L515.7,392.4 L517.2,392.4 L518.7,392.4 L520.2,392.4 L521.7,392.4 L523.2,392.4 L524.7,392.4 L526.2,392.4 L527.7,392.4 L529.2,392.4 L530.7,392.4 L532.2,392.4 L533.7,392.4 L535.2,392.4 L536.7,392.4 L538.2,392.4 L539.7,392.4 L541.2,392.4" stroke="#ff0000" stroke-width="1.0" fill="none" stroke-linejoin="round"/>
<path d="M73.6,392.4 L205.0,392.4 L210.2,391.4 L219.1,390.1 L225.5,388.2 L231.8,386.3 L236.9,384.1 L242.0,384.1 L247.1,383.3 L250.9,382.5 L256.0,381.8 L259.8,379.3 L262.0,378.5 L264.9,374.8 L267.9,371.6 L273.8,365.7 L278.2,359.8 L282.6,349.5 L286.3,339.2 L290.0,334.7 L293.0,328.8 L297.5,323.5 L299.6,320.0 L305.9,302.6 L309.0,291.5 L312.2,278.8 L315.4,264.5 L317.8,255.0 L318.9,245.0 L322.7,225.0 L325.5,214.0 L327.8,203.5 L329.3,197.3 L331.3,194.3 L332.9,199.9 L333.9,193.3 L335.4,185.1 L336.9,180.0 L338.6,172.7 L342.7,172.0 L344.7,175.4 L349.5,178.2 L352.2,180.9 L354.3,190.4 L356.3,182.2 L359.0,172.7 L361.7,176.8 L365.8,187.7 L368.5,197.2 L370.4,210.0 L371.8,214.0 L374.5,216.8 L377.2,220.9 L379.4,224.4 L380.0,231.7 L382.0,238.5 L384.0,245.3 L386.3,248.5 L389.5,256.0 L391.5,263.0 L393.0,268.0 L395.0,274.0 L397.0,280.0 L399.0,286.0 L401.0,292.0 L403.5,300.5 L405.2,305.4 L407.9,313.6 L410.0,317.7 L412.0,321.1 L414.0,325.8 L416.1,331.3 L418.1,338.1 L420.2,345.0 L424.5,351.7 L429.9,360.8 L435.5,365.5 L439.1,368.5 L443.6,372.5 L446.4,376.2 L448.2,379.5 L451.8,382.1 L455.5,383.9 L459.1,386.2 L462.7,388.0 L468.2,389.8 L475.5,390.7 L482.0,391.5 L495.0,392.4 L541.2,392.4" stroke="#ff0000" stroke-width="1.3" fill="none" stroke-linejoin="round"/>
<path d="M73.6,392.4 L75.1,392.4 L76.6,392.4 L78.1,392.4 L79.6,392.4 L81.2,392.4 L82.7,392.4 L84.2,392.4 L85.7,392.4 L87.2,392.4 L88.7,392.4 L90.2,392.4 L91.7,392.4 L93.2,392.4 L94.7,392.4 L96.3,392.4 L97.8,392.4 L99.3,392.4 L100.8,392.4 L102.3,392.4 L103.8,392.4 L105.3,392.4 L106.8,392.4 L108.3,392.4 L109.8,392.4 L111.4,392.4 L112.9,392.4 L114.4,392.4 L115.9,392.4 L117.4,392.4 L118.9,392.4 L120.4,392.4 L121.9,392.4 L123.4,392.4 L125.0,392.4 L126.5,392.4 L128.0,392.4 L129.5,392.4 L131.0,392.4 L132.5,392.4 L134.0,392.4 L135.5,392.4 L137.0,392.4 L138.5,392.4 L140.1,392.4 L141.6,392.4 L143.1,392.4 L144.6,392.4 L146.1,392.4 L147.6,392.4 L149.1,392.4 L150.6,392.4 L152.1,392.4 L153.6,392.4 L155.2,392.4 L156.7,392.4 L158.2,392.4 L159.7,392.4 L161.2,392.4 L162.7,392.4 L164.2,392.4 L165.7,392.4 L167.2,392.4 L168.8,392.4 L170.3,392.4 L171.8,392.4 L173.3,392.4 L174.8,392.4 L176.3,392.4 L177.8,392.4 L179.3,392.4 L180.8,392.4 L182.3,392.4 L183.9,392.4 L185.4,392.4 L186.9,392.4 L188.4,392.4 L189.9,392.4 L191.4,392.4 L192.9,392.4 L194.4,392.4 L195.9,392.4 L197.4,392.4 L199.0,392.4 L200.5,392.4 L202.0,392.4 L203.5,392.4 L205.0,392.4 L206.7,392.1 L208.5,391.7 L210.2,391.4 L212.0,391.1 L213.8,390.9 L215.5,390.6 L217.4,390.7 L219.2,390.6 L220.9,390.3 L222.4,389.5 L224.0,389.0 L225.6,388.4 L227.2,388.0 L228.7,387.4 L230.3,387.1 L231.9,386.5 L233.7,386.0 L235.4,385.3 L237.0,384.4 L238.6,385.0 L240.3,385.5 L242.1,385.1 L243.9,384.8 L245.6,385.1 L247.3,384.6 L249.2,383.8 L251.1,383.7 L252.7,383.3 L254.4,382.6 L256.1,382.1 L257.5,381.3 L258.7,380.5 L260.0,379.7 L262.1,378.7 L263.2,377.5 L264.0,376.0 L264.9,374.8 L266.6,373.4 L268.3,372.0 L269.6,370.9 L270.9,369.9 L272.1,368.7 L273.2,367.4 L274.3,366.1 L275.4,364.6 L276.3,363.0 L277.6,361.7 L278.8,360.1 L279.4,358.6 L279.8,357.0 L280.5,355.6 L280.9,354.0 L281.4,352.5 L282.4,351.1 L283.0,349.6 L283.2,348.1 L283.6,346.5 L283.9,345.0 L284.3,343.5 L285.1,342.1 L286.1,340.8 L286.5,339.3 L287.9,338.0 L289.4,336.7 L290.6,335.1 L291.2,333.5 L292.4,332.2 L293.6,331.0 L294.2,329.6 L295.2,328.4 L296.4,327.1 L297.4,325.7 L298.2,324.0 L298.9,322.0 L300.0,320.2 L300.3,318.6 L300.7,317.1 L301.4,315.7 L302.5,314.5 L302.8,313.0 L303.5,311.6 L304.0,310.1 L304.6,308.7 L304.9,307.2 L305.5,305.7 L305.9,304.2 L306.2,302.7 L306.4,301.0 L306.7,299.4 L307.3,297.9 L307.7,296.3 L308.4,294.7 L309.0,293.2 L309.4,291.6 L309.7,290.0 L310.2,288.4 L310.4,286.8 L310.6,285.1 L311.2,283.6 L311.3,281.9 L311.7,280.4 L312.4,278.9 L312.9,277.3 L312.8,275.6 L313.6,274.1 L314.0,272.5 L314.3,270.9 L314.4,269.3 L314.9,267.7 L315.1,266.1 L315.3,264.5 L315.8,262.9 L316.6,261.4 L317.2,259.9 L317.7,258.3 L318.3,256.8 L318.9,255.2 L319.2,253.5 L319.4,251.8 L319.7,250.1 L319.7,248.5 L319.8,246.8 L319.5,245.1 L319.6,243.5 L319.8,242.0 L320.1,240.4 L320.0,238.8 L320.3,237.3 L320.6,235.8 L321.1,234.3 L321.6,232.8 L322.2,231.3 L322.6,229.8 L322.8,228.2 L323.1,226.7 L323.1,225.1 L323.7,223.6 L324.5,222.1 L325.1,220.6 L325.1,218.9 L325.4,217.3 L325.3,215.6 L325.0,213.9 L325.7,212.5 L326.5,211.1 L326.6,209.5 L327.5,208.2 L328.6,206.8 L328.5,205.2 L328.5,203.7 L329.3,202.2 L329.6,200.6 L329.8,199.1 L330.5,197.9 L331.9,196.9 L330.7,196.7 L329.2,196.9 L329.7,198.8 L332.4,201.8 L334.6,198.5 L334.6,196.8 L334.3,195.0 L334.6,193.4 L335.3,191.9 L335.3,190.2 L336.0,188.6 L336.6,187.0 L336.7,185.4 L337.6,183.9 L338.7,182.4 L338.9,180.5 L338.3,178.4 L338.5,176.5 L338.5,174.6 L338.4,172.4 L340.6,172.0 L342.4,172.7 L343.0,174.1 L344.3,175.8 L345.5,177.7 L347.2,178.4 L349.1,178.7 L350.3,180.1 L351.1,181.6 L352.1,182.6 L352.1,184.2 L352.2,185.9 L352.9,187.4 L353.3,189.0 L354.4,191.5 L355.3,188.9 L356.0,187.3 L356.6,185.8 L357.9,184.3 L357.8,182.6 L358.9,181.2 L359.2,179.6 L359.6,178.0 L359.4,176.2 L360.4,174.8 L359.3,174.5 L358.2,175.2 L359.3,176.4 L360.4,177.4 L361.1,178.8 L361.9,180.3 L362.1,182.0 L362.4,183.6 L362.5,185.4 L362.8,187.1 L363.5,188.5 L364.8,189.7 L365.7,191.1 L366.9,192.5 L367.4,194.1 L368.1,195.6 L367.7,197.4 L367.4,199.0 L366.6,200.7 L367.1,202.3 L367.2,203.9 L367.9,205.5 L368.3,207.0 L369.0,208.6 L369.7,210.2 L370.5,212.2 L370.8,214.6 L372.7,215.9 L374.0,217.2 L374.9,218.5 L375.8,219.9 L376.9,221.1 L377.7,223.0 L378.6,224.7 L378.9,226.3 L378.9,228.1 L379.4,229.9 L379.4,231.8 L380.0,233.5 L380.7,235.2 L381.5,236.8 L381.9,238.5 L382.2,240.3 L382.7,242.0 L382.7,243.8 L383.4,245.6 L384.4,247.4 L385.5,249.0 L386.1,250.4 L386.8,251.8 L387.5,253.3 L388.2,254.8 L388.7,256.3 L389.1,258.0 L389.3,259.8 L389.4,261.7 L390.3,263.4 L391.0,265.0 L391.8,266.5 L392.6,268.1 L393.1,269.6 L393.3,271.2 L394.0,272.7 L394.2,274.3 L394.8,275.7 L395.5,277.2 L396.2,278.6 L396.9,280.0 L397.6,281.5 L398.2,282.9 L398.6,284.5 L399.4,285.9 L400.0,287.3 L400.6,288.8 L400.8,290.4 L401.2,291.9 L401.0,293.8 L401.6,295.5 L401.9,297.3 L402.3,299.0 L402.9,300.7 L403.8,302.2 L403.9,304.0 L404.4,305.7 L405.3,307.2 L406.0,308.8 L406.4,310.4 L407.2,312.0 L407.9,313.6 L408.6,315.0 L409.0,316.5 L409.7,317.9 L410.8,319.5 L411.5,321.4 L411.9,323.0 L412.9,324.4 L413.7,325.9 L414.3,327.8 L415.2,329.6 L416.3,331.2 L416.6,333.0 L416.9,334.8 L417.2,336.5 L418.0,338.1 L417.7,340.1 L418.3,341.8 L418.8,343.5 L419.5,345.3 L419.9,347.1 L421.1,348.2 L422.0,349.5 L422.9,350.8 L424.0,352.0 L425.3,353.0 L425.7,354.5 L426.2,356.0 L426.8,357.4 L427.6,358.7 L427.8,360.3 L428.9,361.7 L430.3,363.1 L431.9,364.1 L433.4,365.2 L435.0,366.2 L436.6,366.6 L438.1,367.2 L439.3,368.2 L440.4,369.3 L441.6,370.3 L442.4,371.5 L443.1,373.0 L443.8,374.3 L444.6,375.6 L445.3,376.9 L446.3,378.4 L447.6,380.0 L449.6,381.4 L451.5,382.5 L453.5,383.2 L455.4,384.0 L457.2,385.2 L458.9,386.5 L460.7,387.5 L462.5,388.5 L464.3,389.2 L466.2,389.6 L468.2,389.7 L470.0,390.3 L471.8,390.9 L473.6,391.4 L475.5,390.7 L477.1,390.9 L478.8,391.1 L480.4,391.3 L482.0,391.5 L483.6,391.6 L485.2,391.7 L486.9,391.8 L488.5,391.9 L490.1,392.1 L491.8,392.2 L493.4,392.3 L495.0,392.4 L496.5,392.4 L498.1,392.4 L499.6,392.4 L501.2,392.4 L502.7,392.4 L504.2,392.4 L505.8,392.4 L507.3,392.4 L508.9,392.4 L510.4,392.4 L511.9,392.4 L513.5,392.4 L515.0,392.4 L516.6,392.4 L518.1,392.4 L519.6,392.4 L521.2,392.4 L522.7,392.4 L524.3,392.4 L525.8,392.4 L527.3,392.4 L528.9,392.4 L530.4,392.4 L532.0,392.4 L533.5,392.4 L535.0,392.4 L536.6,392.4 L538.1,392.4 L539.7,392.4 L541.2,392.4" stroke="#ff0000" stroke-width="1.0" fill="none" stroke-linejoin="round"/>
<path d="M73.6,392.4 L75.1,392.4 L76.6,392.4 L78.1,392.4 L79.6,392.4 L81.2,392.4 L82.7,392.4 L84.2,392.4 L85.7,392.4 L87.2,392.4 L88.7,392.4 L90.2,392.4 L91.7,392.4 L93.2,392.4 L94.7,392.4 L96.3,392.4 L97.8,392.4 L99.3,392.4 L100.8,392.4 L102.3,392.4 L103.8,392.4 L105.3,392.4 L106.8,392.4 L108.3,392.4 L109.8,392.4 L111.4,392.4 L112.9,392.4 L114.4,392.4 L115.9,392.4 L117.4,392.4 L118.9,392.4 L120.4,392.4 L121.9,392.4 L123.4,392.4 L125.0,392.4 L126.5,392.4 L128.0,392.4 L129.5,392.4 L131.0,392.4 L132.5,392.4 L134.0,392.4 L135.5,392.4 L137.0,392.4 L138.5,392.4 L140.1,392.4 L141.6,392.4 L143.1,392.4 L144.6,392.4 L146.1,392.4 L147.6,392.4 L149.1,392.4 L150.6,392.4 L152.1,392.4 L153.6,392.4 L155.2,392.4 L156.7,392.4 L158.2,392.4 L159.7,392.4 L161.2,392.4 L162.7,392.4 L164.2,392.4 L165.7,392.4 L167.2,392.4 L168.8,392.4 L170.3,392.4 L171.8,392.4 L173.3,392.4 L174.8,392.4 L176.3,392.4 L177.8,392.4 L179.3,392.4 L180.8,392.4 L182.3,392.4 L183.9,392.4 L185.4,392.4 L186.9,392.4 L188.4,392.4 L189.9,392.4 L191.4,392.4 L192.9,392.4 L194.4,392.4 L195.9,392.4 L197.4,392.4 L199.0,392.4 L200.5,392.4 L202.0,392.4 L203.5,392.4 L205.0,392.4 L206.7,392.1 L208.5,391.7 L210.2,391.4 L212.0,391.1 L213.8,390.9 L215.5,390.6 L217.3,390.2 L219.0,389.8 L220.6,389.3 L222.3,389.0 L223.9,388.5 L225.4,387.7 L227.0,387.4 L228.6,386.9 L230.1,386.3 L231.6,385.7 L233.4,385.2 L235.0,384.3 L236.8,383.5 L238.6,383.6 L240.3,383.7 L241.9,383.2 L243.5,382.6 L245.2,382.5 L246.9,382.3 L248.8,382.0 L250.8,382.1 L252.6,382.2 L254.3,381.8 L256.1,382.0 L257.4,381.2 L258.5,380.1 L259.8,379.3 L262.1,378.6 L262.6,377.0 L263.5,375.7 L264.5,374.5 L265.7,372.5 L267.1,370.8 L268.4,369.7 L269.5,368.5 L270.5,367.1 L271.9,366.1 L273.0,365.0 L274.1,363.6 L275.1,362.1 L276.5,360.9 L277.5,359.4 L278.0,358.0 L278.8,356.6 L279.5,355.2 L280.0,353.6 L281.0,352.3 L281.6,350.8 L282.0,349.2 L282.6,347.8 L283.4,346.5 L283.4,344.8 L283.8,343.3 L284.3,341.8 L284.6,340.2 L284.9,338.4 L286.5,336.8 L287.9,335.5 L289.0,334.1 L289.9,332.8 L290.9,331.4 L291.6,330.0 L292.4,328.4 L293.9,327.3 L295.1,326.0 L296.1,324.6 L297.3,323.3 L298.1,321.5 L298.9,319.7 L299.5,318.3 L300.0,316.9 L300.5,315.4 L301.4,314.1 L301.8,312.6 L302.2,311.1 L302.7,309.6 L303.1,308.1 L303.4,306.6 L304.3,305.3 L304.8,303.8 L305.4,302.4 L305.8,300.9 L306.3,299.3 L306.5,297.6 L307.1,296.1 L308.0,294.6 L308.5,293.1 L309.2,291.6 L309.6,290.0 L310.1,288.4 L309.9,286.7 L310.2,285.0 L310.3,283.4 L310.6,281.8 L310.6,280.1 L311.4,278.6 L311.7,277.0 L312.0,275.4 L312.3,273.8 L313.0,272.3 L313.3,270.7 L313.5,269.1 L313.8,267.5 L314.2,265.9 L314.6,264.3 L314.9,262.7 L315.4,261.1 L315.8,259.6 L316.2,258.0 L316.8,256.4 L317.0,254.9 L317.6,253.3 L318.0,251.7 L318.2,250.0 L318.3,248.3 L318.4,246.6 L318.0,244.9 L317.9,243.2 L318.2,241.7 L318.3,240.1 L318.8,238.6 L319.4,237.1 L319.5,235.6 L320.0,234.0 L320.1,232.5 L320.4,230.9 L320.6,229.4 L321.0,227.9 L320.9,226.2 L321.2,224.7 L321.7,223.1 L322.2,221.5 L323.0,220.0 L323.4,218.5 L323.8,216.9 L324.0,215.3 L324.3,213.7 L323.9,212.1 L324.8,210.7 L325.2,209.2 L325.5,207.7 L325.8,206.2 L327.0,204.9 L327.0,203.3 L327.8,201.9 L328.5,200.4 L329.1,198.9 L329.6,197.4 L330.4,195.9 L331.2,194.6 L331.6,196.2 L332.5,198.0 L333.1,199.1 L332.3,198.1 L332.4,196.4 L332.1,194.7 L332.6,193.1 L333.3,191.5 L333.7,189.9 L333.1,188.1 L333.8,186.5 L334.1,184.8 L334.3,182.9 L334.7,181.2 L335.2,179.5 L335.8,177.8 L335.8,175.9 L336.8,174.2 L337.2,171.1 L340.5,171.3 L343.3,170.7 L344.5,173.2 L345.8,174.4 L346.8,175.4 L348.2,176.8 L350.0,177.6 L351.7,178.7 L353.1,180.4 L353.7,182.2 L354.4,183.7 L353.9,185.5 L354.3,187.1 L355.1,188.6 L354.3,189.9 L354.2,188.6 L354.3,186.9 L355.3,185.4 L356.0,183.9 L356.0,182.1 L355.7,180.3 L355.4,178.5 L355.8,176.9 L356.3,175.4 L357.5,174.0 L358.9,172.1 L360.2,173.9 L361.1,175.2 L361.4,177.0 L362.5,178.3 L363.4,179.7 L363.7,181.4 L364.1,183.0 L365.4,184.3 L366.4,185.7 L366.3,187.5 L366.8,189.1 L368.0,190.5 L368.5,192.1 L368.9,193.7 L369.6,195.2 L370.1,196.9 L369.6,198.7 L369.5,200.3 L370.0,201.9 L370.1,203.5 L370.1,205.1 L370.6,206.7 L370.7,208.3 L370.6,209.9 L371.7,211.8 L372.3,213.7 L373.8,214.8 L375.8,215.8 L376.4,217.5 L377.3,218.9 L378.4,220.1 L379.5,221.9 L380.5,224.0 L381.1,226.1 L381.1,227.9 L381.1,229.8 L381.4,231.4 L381.5,233.1 L382.0,234.8 L382.6,236.5 L383.1,238.2 L383.2,240.0 L384.1,241.6 L384.1,243.4 L384.5,245.1 L385.7,246.5 L386.8,248.2 L387.0,250.0 L388.0,251.3 L388.3,253.0 L389.1,254.4 L389.6,256.0 L390.5,257.6 L391.0,259.4 L391.3,261.2 L391.7,263.0 L392.3,264.6 L392.3,266.4 L392.7,268.1 L393.7,269.4 L394.1,271.0 L394.8,272.4 L395.5,273.8 L395.8,275.4 L396.3,276.9 L397.0,278.3 L397.3,279.9 L398.0,281.3 L398.9,282.7 L399.2,284.3 L399.9,285.7 L400.5,287.2 L401.1,288.6 L401.5,290.2 L402.0,291.7 L402.4,293.4 L402.7,295.2 L403.2,296.9 L403.7,298.6 L404.5,300.2 L405.1,301.8 L405.7,303.4 L406.4,305.0 L406.8,306.7 L406.9,308.5 L407.1,310.2 L407.4,311.9 L407.9,313.6 L408.7,314.9 L409.4,316.3 L410.2,317.6 L411.3,319.2 L412.3,321.0 L412.6,322.7 L413.3,324.3 L413.9,325.9 L414.7,327.6 L415.3,329.5 L416.2,331.3 L416.8,332.9 L417.2,334.7 L417.9,336.3 L418.2,338.1 L418.8,339.8 L419.2,341.5 L419.9,343.2 L420.3,344.9 L421.1,346.3 L422.0,347.6 L423.2,348.7 L424.2,350.0 L425.1,351.4 L425.8,352.7 L426.5,354.0 L426.9,355.5 L427.8,356.8 L428.4,358.2 L429.4,359.3 L429.9,360.8 L431.5,361.7 L432.7,363.1 L434.2,364.3 L435.7,365.2 L437.1,366.0 L438.3,367.0 L439.8,367.6 L440.9,368.7 L441.9,369.9 L443.1,370.8 L444.4,371.8 L444.9,373.5 L445.8,374.7 L446.7,376.0 L447.3,377.8 L448.1,379.6 L450.0,380.8 L451.9,382.0 L453.8,382.7 L455.8,383.4 L457.6,384.6 L459.3,385.8 L461.1,386.8 L462.8,387.7 L464.7,388.2 L466.5,388.9 L468.4,389.1 L470.1,389.2 L471.9,389.5 L473.8,389.6 L475.5,390.7 L477.1,390.9 L478.8,391.1 L480.4,391.3 L482.0,391.5 L483.6,391.6 L485.2,391.7 L486.9,391.8 L488.5,391.9 L490.1,392.1 L491.8,392.2 L493.4,392.3 L495.0,392.4 L496.5,392.4 L498.1,392.4 L499.6,392.4 L501.2,392.4 L502.7,392.4 L504.2,392.4 L505.8,392.4 L507.3,392.4 L508.9,392.4 L510.4,392.4 L511.9,392.4 L513.5,392.4 L515.0,392.4 L516.6,392.4 L518.1,392.4 L519.6,392.4 L521.2,392.4 L522.7,392.4 L524.3,392.4 L525.8,392.4 L527.3,392.4 L528.9,392.4 L530.4,392.4 L532.0,392.4 L533.5,392.4 L535.0,392.4 L536.6,392.4 L538.1,392.4 L539.7,392.4 L541.2,392.4" stroke="#ff0000" stroke-width="1.0" fill="none" stroke-linejoin="round"/>
<g font-family="Liberation Sans, Arial, sans-serif" font-size="14.4" fill="#262626"><text transform="translate(63.5,397.70) scale(1,1.08)" text-anchor="end">0</text><text transform="translate(63.5,335.08) scale(1,1.08)" text-anchor="end">100</text><text transform="translate(63.5,272.46) scale(1,1.08)" text-anchor="end">200</text><text transform="translate(63.5,209.84) scale(1,1.08)" text-anchor="end">300</text><text transform="translate(63.5,147.22) scale(1,1.08)" text-anchor="end">400</text><text transform="translate(63.5,84.60) scale(1,1.08)" text-anchor="end">500</text><text transform="translate(63.5,21.98) scale(1,1.08)" text-anchor="end">600</text><text transform="translate(119.15,412.9) scale(1,1.08)" text-anchor="middle">-4</text><text transform="translate(165.90,412.9) scale(1,1.08)" text-anchor="middle">-3</text><text transform="translate(212.65,412.9) scale(1,1.08)" text-anchor="middle">-2</text><text transform="translate(259.40,412.9) scale(1,1.08)" text-anchor="middle">-1</text><text transform="translate(306.15,412.9) scale(1,1.08)" text-anchor="middle">0</text><text transform="translate(352.90,412.9) scale(1,1.08)" text-anchor="middle">1</text><text transform="translate(399.65,412.9) scale(1,1.08)" text-anchor="middle">2</text><text transform="translate(446.40,412.9) scale(1,1.08)" text-anchor="middle">3</text><text transform="translate(493.15,412.9) scale(1,1.08)" text-anchor="middle">4</text></g>
<text x="307.0" y="434.1" text-anchor="middle" font-family="DejaVu Math TeX Gyre, Liberation Serif, serif" font-style="italic" font-size="14.6" fill="#111" stroke="#111" stroke-width="0.25">ν</text>
<text transform="translate(24.50,283.60) rotate(-90)" font-family="Liberation Sans, Arial, sans-serif" font-size="15.8" font-style="italic" fill="#262626">β</text>
<text transform="translate(31.60,272.70) rotate(-90)" font-family="Liberation Sans, Arial, sans-serif" font-size="12.2" fill="#262626">0</text>
<text transform="translate(16.60,272.70) rotate(-90)" font-family="Liberation Sans, Arial, sans-serif" font-size="12.2" fill="#262626"><tspan letter-spacing="0.5">min</tspan></text>
<text transform="translate(24.50,248.10) rotate(-90)" font-family="Liberation Sans, Arial, sans-serif" font-size="15.8" fill="#262626">/</text>
<text transform="translate(24.50,236.00) rotate(-90)" font-family="Liberation Sans, Arial, sans-serif" font-size="15.8" font-style="italic" fill="#262626">f</text>
<text transform="translate(31.60,231.00) rotate(-90)" font-family="Liberation Sans, Arial, sans-serif" font-size="12.2" fill="#262626">sky</text>
<text transform="translate(24.50,198.60) rotate(-90)" font-family="Liberation Sans, Arial, sans-serif" font-size="15.8" font-style="italic" fill="#262626">β</text>
<text transform="translate(31.60,187.70) rotate(-90)" font-family="Liberation Sans, Arial, sans-serif" font-size="12.2" fill="#262626">1</text>
<text transform="translate(16.60,187.70) rotate(-90)" font-family="Liberation Sans, Arial, sans-serif" font-size="12.2" fill="#262626"><tspan letter-spacing="0.5">min</tspan></text>
<text transform="translate(24.50,163.10) rotate(-90)" font-family="Liberation Sans, Arial, sans-serif" font-size="15.8" fill="#262626">/</text>
<text transform="translate(24.50,151.00) rotate(-90)" font-family="Liberation Sans, Arial, sans-serif" font-size="15.8" font-style="italic" fill="#262626">f</text>
<text transform="translate(31.60,146.00) rotate(-90)" font-family="Liberation Sans, Arial, sans-serif" font-size="12.2" fill="#262626">sky</text>
<text transform="translate(24.50,208.50) rotate(-90)" font-family="Liberation Sans, Arial, sans-serif" font-size="15.8" fill="#262626">,</text>
<rect x="382.4" y="28.5" width="146.60" height="122.30" fill="#fff" stroke="#5a5a5a" stroke-width="1.25"/>
<path d="M385.9,38.90 H430.4" stroke="#00ff00" stroke-width="1.1" />
<text transform="translate(434.3,44.00) scale(1,1.1)" font-family="Liberation Sans, Arial, sans-serif" font-size="12.9" fill="#262626">L=0.5</text>
<path d="M385.9,55.84 H430.4" stroke="#ff0000" stroke-width="1.1" stroke-dasharray="1.6 2.8"/>
<text transform="translate(434.3,61.00) scale(1,1.1)" font-family="Liberation Sans, Arial, sans-serif" font-size="12.9" fill="#262626">L=1.0</text>
<path d="M385.9,72.78 H430.4" stroke="#0000ff" stroke-width="1.1" stroke-dasharray="11.4 6.4"/>
<text transform="translate(434.3,78.00) scale(1,1.1)" font-family="Liberation Sans, Arial, sans-serif" font-size="12.9" fill="#262626">L=1.5</text>
<path d="M385.9,89.72 H430.4" stroke="#ff00ff" stroke-width="1.1" stroke-dasharray="9.1 3.1 2.7 2.9"/>
<text transform="translate(434.3,95.00) scale(1,1.1)" font-family="Liberation Sans, Arial, sans-serif" font-size="12.9" fill="#262626">L=2.0</text>
<path d="M385.9,106.66 H430.4" stroke="#000000" stroke-width="1.1" />
<text transform="translate(434.3,112.00) scale(1,1.1)" font-family="Liberation Sans, Arial, sans-serif" font-size="12.9" fill="#262626">L=3.0</text>
<path d="M385.9,123.60 H430.4" stroke="#ffa500" stroke-width="1.1" />
<text transform="translate(434.3,129.00) scale(1,1.1)" font-family="Liberation Sans, Arial, sans-serif" font-size="12.9" fill="#262626">infinite</text>
<path d="M385.9,140.54 H430.4" stroke="#ff0000" stroke-width="1.1"/>
<text transform="translate(434.3,146.00) scale(1,1.1)" font-family="Liberation Sans, Arial, sans-serif" font-size="12.9" fill="#262626">Planck</text>
<text transform="translate(484.4,129.00) scale(1,1.1)" font-family="Liberation Sans, Arial, sans-serif" font-size="12.9" fill="#262626"><tspan font-family="Liberation Serif, serif" font-weight="bold">Λ</tspan>CDM</text>
</svg>
</body></html>
